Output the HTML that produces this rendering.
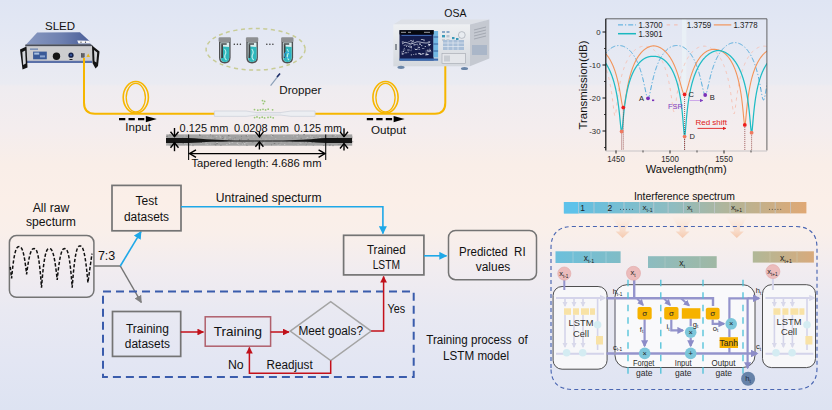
<!DOCTYPE html>
<html><head><meta charset="utf-8"><style>
html,body{margin:0;padding:0;background:#e6e9f2;}
svg{display:block;}
text{font-family:"Liberation Sans",sans-serif;}
</style></head><body>
<svg width="832" height="410" viewBox="0 0 832 410" font-family="Liberation Sans, sans-serif">
<defs>
<linearGradient id="bg" x1="0" y1="0" x2="0" y2="1">
 <stop offset="0" stop-color="#dfe5f3"/>
 <stop offset="0.1" stop-color="#e4e8f3"/>
 <stop offset="0.205" stop-color="#eaebf2"/>
 <stop offset="0.21" stop-color="#efecf0"/>
 <stop offset="0.317" stop-color="#f4edee"/>
 <stop offset="0.40" stop-color="#f9eee8"/>
 <stop offset="0.49" stop-color="#fbefe8"/>
 <stop offset="0.57" stop-color="#f9efea"/>
 <stop offset="0.66" stop-color="#f1ecf0"/>
 <stop offset="0.756" stop-color="#e9e9f2"/>
 <stop offset="0.88" stop-color="#e3e6f3"/>
 <stop offset="1" stop-color="#dde3f2"/>
</linearGradient>
<linearGradient id="spec" x1="0" y1="0" x2="1" y2="0">
 <stop offset="0" stop-color="#5cc0e6"/>
 <stop offset="0.45" stop-color="#8fbcc0"/>
 <stop offset="0.7" stop-color="#b4b496"/>
 <stop offset="1" stop-color="#e0a874"/>
</linearGradient>
<linearGradient id="xt1" x1="0" y1="0" x2="1" y2="0">
 <stop offset="0" stop-color="#6cc0dc"/><stop offset="1" stop-color="#80bcc6"/>
</linearGradient>
<linearGradient id="xt" x1="0" y1="0" x2="1" y2="0">
 <stop offset="0" stop-color="#8cbcc0"/><stop offset="1" stop-color="#a0b8a4"/>
</linearGradient>
<linearGradient id="xt2" x1="0" y1="0" x2="1" y2="0">
 <stop offset="0" stop-color="#b0b898"/><stop offset="1" stop-color="#d8aa7c"/>
</linearGradient>
<linearGradient id="funnel" x1="0" y1="0" x2="0" y2="1">
 <stop offset="0" stop-color="#fbe3d0" stop-opacity="0.1"/><stop offset="0.5" stop-color="#f8d0b4" stop-opacity="0.6"/><stop offset="1" stop-color="#f4b894"/>
</linearGradient>
<linearGradient id="sledtop" x1="0" y1="0" x2="1" y2="0">
 <stop offset="0" stop-color="#8898c0"/><stop offset="0.55" stop-color="#6e80b0"/><stop offset="1" stop-color="#4a5e98"/>
</linearGradient>
<linearGradient id="osafront" x1="0" y1="0" x2="0" y2="1">
 <stop offset="0" stop-color="#eef0f2"/><stop offset="1" stop-color="#d4d8de"/>
</linearGradient>
<marker id="ab" viewBox="0 0 10 10" refX="9" refY="5" markerWidth="5" markerHeight="5" orient="auto-start-reverse"><path d="M0,0L10,5L0,10z" fill="#1ea8e8"/></marker>
<marker id="ag" viewBox="0 0 10 10" refX="9" refY="5" markerWidth="5" markerHeight="5" orient="auto-start-reverse"><path d="M0,0L10,5L0,10z" fill="#808080"/></marker>
<marker id="ar" viewBox="0 0 10 10" refX="9" refY="5" markerWidth="4.5" markerHeight="4.5" orient="auto-start-reverse"><path d="M0,0L10,5L0,10z" fill="#c0101a"/></marker>
<marker id="ap" viewBox="0 0 10 10" refX="8" refY="5" markerWidth="3.2" markerHeight="3.2" orient="auto-start-reverse"><path d="M0,0L10,5L0,10z" fill="#8c8cc8"/></marker>
<marker id="apf" viewBox="0 0 10 10" refX="8" refY="5" markerWidth="3.2" markerHeight="3.2" orient="auto-start-reverse"><path d="M0,0L10,5L0,10z" fill="#d8d8ea"/></marker>
<marker id="ak" viewBox="0 0 10 10" refX="9" refY="5" markerWidth="4" markerHeight="4" orient="auto-start-reverse"><path d="M0,0L10,5L0,10z" fill="#000"/></marker>
<marker id="ach" viewBox="0 0 10 10" refX="2" refY="5" markerWidth="6" markerHeight="6" orient="auto-start-reverse"><path d="M0,0L10,5L0,10" fill="none" stroke="#000" stroke-width="1.6"/></marker>
<marker id="aRed" viewBox="0 0 10 10" refX="9" refY="5" markerWidth="4" markerHeight="4" orient="auto"><path d="M0,0L10,5L0,10z" fill="#e02020"/></marker>
<marker id="aPur" viewBox="0 0 10 10" refX="9" refY="5" markerWidth="4" markerHeight="4" orient="auto"><path d="M0,0L10,5L0,10z" fill="#8040c0"/></marker>
<clipPath id="plot"><rect x="606" y="19" width="161" height="132"/></clipPath>
</defs>
<rect width="832" height="410" fill="url(#bg)"/>
<g id="sled">
<polygon points="37.2,32.6 79.9,32.2 89.5,41 90.5,44.6 25.9,44.8" fill="url(#sledtop)"/>
<polygon points="77.2,40.6 89.5,40.8 90.3,43.6 78.5,43.6" fill="#f6f6f8"/>
<circle cx="81" cy="42.2" r="0.6" fill="#333"/><circle cx="85.5" cy="42.2" r="0.6" fill="#333"/>
<polygon points="25.4,44.6 91,44.3 93.5,46.5 25,46.5" fill="#4a4e58"/>
<rect x="25.6" y="46.4" width="66.4" height="16.2" fill="#cdcdcf"/>
<rect x="25.6" y="60.8" width="66.4" height="2.2" fill="#5a70a8"/>
<rect x="33.1" y="51.6" width="13.7" height="7.7" fill="#3a5a98"/>
<rect x="34.2" y="52.6" width="5" height="2" fill="#a8c0e0"/><rect x="40" y="55.4" width="5" height="2" fill="#8aa4d0"/>
<rect x="30" y="48.6" width="8" height="1" fill="#5070a8"/>
<circle cx="56.5" cy="56.3" r="3.7" fill="#151515"/>
<circle cx="71" cy="55.2" r="2.6" fill="#16224a"/>
<circle cx="71" cy="55.2" r="1.1" fill="#3a5aa0"/>
<rect x="69.5" y="59" width="3" height="1" fill="#222"/>
<rect x="81.2" y="53.6" width="3" height="3.6" fill="#606066" stroke="#333" stroke-width="0.4"/>
<polygon points="86.4,57 88.2,53.6 90,57" fill="#e8b820"/>
<path d="M20,49.5 L26.5,46.5 L27.5,67.5 L22.5,69.5 Z" fill="#141414"/>
<path d="M22.3,52 L25.2,50.5 L25.8,63.5 L23.2,65 Z" fill="#d4d6da"/>
<path d="M92,45.5 L99.5,51.5 L98,66 L95.5,68.5 L92.5,63 Z" fill="#141414"/>
<path d="M94,50 L97.2,52.6 L96.4,62.5 L94.5,61.2 Z" fill="#d4d6da"/>
</g>
<text x="60" y="29.6" font-size="11.5" fill="#111" text-anchor="middle" >SLED</text>
<path d="M84,58 L84,102.8 Q84,113.8 95,113.8 L215.5,113.8" fill="none" stroke="#f6b600" stroke-width="2"/>
<path d="M315,113.8 L435,113.8 Q445.3,113.8 445.3,102.8 L445.3,60" fill="none" stroke="#f6b600" stroke-width="2"/>
<ellipse cx="135.8" cy="97.3" rx="12.6" ry="15.8" fill="none" stroke="#f6b600" stroke-width="1.6"/>
<ellipse cx="135.8" cy="97.6" rx="9.6" ry="14.2" fill="none" stroke="#f6b600" stroke-width="1.3"/>
<ellipse cx="385.5" cy="97.3" rx="12.6" ry="15.8" fill="none" stroke="#f6b600" stroke-width="1.6"/>
<ellipse cx="385.5" cy="97.6" rx="9.6" ry="14.2" fill="none" stroke="#f6b600" stroke-width="1.3"/>
<path d="M214.4,111 L246,111 L256,112.5 L281,112.5 L291,111 L315,111 L315,116.4 L291,116.4 L281,115.1 L256,115.1 L246,116.4 L214.4,116.4 Z" fill="#eceef2" stroke="#d2d6de" stroke-width="0.9"/>
<path d="M256,113.8 H281" stroke="#dcdfe6" stroke-width="0.6"/>
<circle cx="262.5" cy="100.6" r="0.9" fill="#98c676"/>
<circle cx="264.6" cy="101.4" r="0.9" fill="#98c676"/>
<circle cx="263.4" cy="103.6" r="0.9" fill="#98c676"/>
<circle cx="254.5" cy="109.6" r="0.9" fill="#98c676"/>
<circle cx="257.8" cy="110.2" r="0.9" fill="#98c676"/>
<circle cx="260.4" cy="109.8" r="0.9" fill="#98c676"/>
<circle cx="263" cy="109.3" r="0.9" fill="#98c676"/>
<circle cx="265.6" cy="109.9" r="0.9" fill="#98c676"/>
<circle cx="268.2" cy="109.2" r="0.9" fill="#98c676"/>
<circle cx="272.6" cy="109.8" r="0.9" fill="#98c676"/>
<circle cx="254.6" cy="117.6" r="0.9" fill="#98c676"/>
<circle cx="257" cy="117" r="0.9" fill="#98c676"/>
<circle cx="259.6" cy="117.8" r="0.9" fill="#98c676"/>
<circle cx="262.2" cy="117.2" r="0.9" fill="#98c676"/>
<circle cx="264.6" cy="117.9" r="0.9" fill="#98c676"/>
<circle cx="268" cy="117.4" r="0.9" fill="#98c676"/>
<circle cx="270.6" cy="117.1" r="0.9" fill="#98c676"/>
<circle cx="273.2" cy="117.8" r="0.9" fill="#98c676"/>
<path d="M119,119.1 L144.3,119.1" stroke="#000" stroke-width="2.4" stroke-dasharray="6.3,3.2"/>
<path d="M145.8,115.9 L156.8,119.1 L145.8,122.3 Z" fill="#000"/>
<path d="M366.8,119.1 L392.1,119.1" stroke="#000" stroke-width="2.4" stroke-dasharray="6.3,3.2"/>
<path d="M393.6,115.9 L404.6,119.1 L393.6,122.3 Z" fill="#000"/>
<text x="138.1" y="131.4" font-size="11.6" fill="#111" text-anchor="middle" textLength="25.6" lengthAdjust="spacingAndGlyphs" >Input</text>
<text x="388.5" y="133.6" font-size="11.7" fill="#111" text-anchor="middle" textLength="35" lengthAdjust="spacingAndGlyphs" >Output</text>
<ellipse cx="255.6" cy="49.3" rx="49.5" ry="20.8" fill="none" stroke="#c8cc96" stroke-width="1.5" stroke-dasharray="4,3.5"/>
<path d="M219,41 L219,57.5 Q219,63.4 224.8,63.4 Q230.6,63.4 230.6,57.5 L230.6,41 Z" fill="#4e5052"/>
<path d="M220.4,42.5 L220.4,57.2 Q220.4,61.9 224.8,61.9 Q229.2,61.9 229.2,57.2 L229.2,42.5 Z" fill="#dceeee"/>
<path d="M222.4,46.5 L229.2,47 L229.2,57.2 Q229.2,61.9 224.8,61.9 Q221,61.9 221,58 Z" fill="#2fb8bc"/>
<path d="M224.5,49 Q227,52 225,55 Q224,58 226.5,60" stroke="#bff0ee" stroke-width="1.1" fill="none"/>
<rect x="221.2" y="44.5" width="1.8" height="13.5" fill="#3e4042"/>
<rect x="221.2" y="43.3" width="5.5" height="1.4" fill="#3e4042"/>
<rect x="218.6" y="37.2" width="12.4" height="4.8" rx="1.2" fill="#8e9092"/>
<path d="M246.3,41 L246.3,57.5 Q246.3,63.4 252.10000000000002,63.4 Q257.90000000000003,63.4 257.90000000000003,57.5 L257.90000000000003,41 Z" fill="#4e5052"/>
<path d="M247.70000000000002,42.5 L247.70000000000002,57.2 Q247.70000000000002,61.9 252.10000000000002,61.9 Q256.50000000000006,61.9 256.50000000000006,57.2 L256.50000000000006,42.5 Z" fill="#dceeee"/>
<path d="M249.70000000000002,46.5 L256.50000000000006,47 L256.50000000000006,57.2 Q256.50000000000006,61.9 252.10000000000002,61.9 Q248.3,61.9 248.3,58 Z" fill="#2fb8bc"/>
<path d="M251.8,49 Q254.3,52 252.3,55 Q251.3,58 253.8,60" stroke="#bff0ee" stroke-width="1.1" fill="none"/>
<rect x="248.5" y="44.5" width="1.8" height="13.5" fill="#3e4042"/>
<rect x="248.5" y="43.3" width="5.5" height="1.4" fill="#3e4042"/>
<rect x="245.9" y="37.2" width="12.4" height="4.8" rx="1.2" fill="#8e9092"/>
<path d="M281.5,41 L281.5,57.5 Q281.5,63.4 287.3,63.4 Q293.1,63.4 293.1,57.5 L293.1,41 Z" fill="#4e5052"/>
<path d="M282.9,42.5 L282.9,57.2 Q282.9,61.9 287.3,61.9 Q291.70000000000005,61.9 291.70000000000005,57.2 L291.70000000000005,42.5 Z" fill="#dceeee"/>
<path d="M284.9,46.5 L291.70000000000005,47 L291.70000000000005,57.2 Q291.70000000000005,61.9 287.3,61.9 Q283.5,61.9 283.5,58 Z" fill="#2fb8bc"/>
<path d="M287.0,49 Q289.5,52 287.5,55 Q286.5,58 289.0,60" stroke="#bff0ee" stroke-width="1.1" fill="none"/>
<rect x="283.7" y="44.5" width="1.8" height="13.5" fill="#3e4042"/>
<rect x="283.7" y="43.3" width="5.5" height="1.4" fill="#3e4042"/>
<rect x="281.1" y="37.2" width="12.4" height="4.8" rx="1.2" fill="#8e9092"/>
<circle cx="287.3" cy="55" r="3" fill="none" stroke="#28a8e0" stroke-width="1"/>
<circle cx="234.3" cy="44.2" r="0.75" fill="#333"/>
<circle cx="237.4" cy="44.2" r="0.75" fill="#333"/>
<circle cx="240.4" cy="44.2" r="0.75" fill="#333"/>
<circle cx="266.8" cy="44.2" r="0.75" fill="#333"/>
<circle cx="269.9" cy="44.2" r="0.75" fill="#333"/>
<circle cx="272.9" cy="44.2" r="0.75" fill="#333"/>
<path d="M270.6,85.6 L279.8,73.8" stroke="#8ca0b8" stroke-width="1.2"/><path d="M277,77 L280,73.5" stroke="#20306a" stroke-width="1.6"/>
<text x="279.3" y="93.8" font-size="11.7" fill="#111" text-anchor="start" textLength="42" lengthAdjust="spacingAndGlyphs" >Dropper</text>
<g id="osa">
<polygon points="393.3,24.4 401.5,19.5 489.3,19.5 470,24.4" fill="#dde0e6"/>
<polygon points="470,24.4 489.3,19.5 489.3,58.5 470,66.3" fill="#c5c9d1"/>
<path d="M474,30 L486,27 M474,33 L486,30 M474,36 L486,33 M474,39 L486,36" stroke="#9aa0aa" stroke-width="0.8"/>
<rect x="472" y="45" width="15" height="10" fill="#aab6c8"/>
<rect x="393.3" y="24.4" width="76.7" height="41.9" fill="url(#osafront)"/>
<rect x="399.5" y="30.2" width="34.2" height="30.3" fill="#141c4c"/>
<rect x="433.4" y="31" width="4.7" height="26.5" fill="#72b8e4"/><path d="M433.4,37 h4.7 M433.4,44 h4.7 M433.4,51 h4.7" stroke="#2a4a8a" stroke-width="0.8"/>
<rect x="399.5" y="58.5" width="38.6" height="2.2" fill="#3c6eb4"/>
<rect x="399.5" y="30.2" width="34.2" height="4.2" fill="#06080e"/>
<path d="M401,32.3 h5 M408,32.3 h3 M424,32.3 h6" stroke="#c0c4cc" stroke-width="0.8"/>
<path d="M401.5,35.5 h30" stroke="#4a78c8" stroke-width="0.8"/><rect x="410.7" y="40.6" width="0.8" height="0.8" fill="#e8ecf6" opacity="1"/><rect x="403.8" y="47.9" width="1.2" height="0.8" fill="#e8ecf6" opacity="0.6"/><rect x="403.6" y="45.1" width="1.2" height="0.8" fill="#e8ecf6" opacity="0.6"/><rect x="429.4" y="48.7" width="0.8" height="0.8" fill="#e8ecf6" opacity="1"/><rect x="417.2" y="47.7" width="1.2" height="0.8" fill="#e8ecf6" opacity="0.6"/><rect x="418.4" y="48.9" width="1.8" height="0.8" fill="#e8ecf6" opacity="0.6"/><rect x="407.2" y="49.6" width="2.5" height="0.8" fill="#e8ecf6" opacity="0.8"/><rect x="415.0" y="53.7" width="1.8" height="0.8" fill="#e8ecf6" opacity="0.8"/><rect x="408.5" y="41.1" width="1.2" height="0.8" fill="#e8ecf6" opacity="0.6"/><rect x="418.2" y="46.9" width="1.8" height="0.8" fill="#e8ecf6" opacity="1"/><rect x="414.5" y="48.4" width="0.8" height="0.8" fill="#e8ecf6" opacity="0.6"/><rect x="429.0" y="45.2" width="0.8" height="0.8" fill="#e8ecf6" opacity="1"/><rect x="418.2" y="52.9" width="1.8" height="0.8" fill="#e8ecf6" opacity="0.8"/><rect x="421.9" y="48.1" width="2.5" height="0.8" fill="#e8ecf6" opacity="0.6"/><rect x="426.2" y="54.1" width="2.5" height="0.8" fill="#e8ecf6" opacity="1"/><rect x="420.9" y="39.0" width="2.5" height="0.8" fill="#e8ecf6" opacity="0.8"/><rect x="422.5" y="53.1" width="1.8" height="0.8" fill="#e8ecf6" opacity="0.6"/><rect x="429.2" y="44.0" width="0.8" height="0.8" fill="#e8ecf6" opacity="0.8"/><rect x="402.8" y="51.1" width="1.2" height="0.8" fill="#e8ecf6" opacity="1"/><rect x="408.4" y="44.6" width="2.5" height="0.8" fill="#e8ecf6" opacity="0.6"/><rect x="406.0" y="44.8" width="1.8" height="0.8" fill="#e8ecf6" opacity="0.6"/><rect x="425.6" y="52.7" width="1.8" height="0.8" fill="#e8ecf6" opacity="1"/><rect x="413.5" y="44.1" width="2.5" height="0.8" fill="#e8ecf6" opacity="0.6"/><rect x="408.0" y="46.2" width="1.2" height="0.8" fill="#e8ecf6" opacity="0.8"/><rect x="419.3" y="43.4" width="1.2" height="0.8" fill="#e8ecf6" opacity="1"/><rect x="426.8" y="54.2" width="0.8" height="0.8" fill="#e8ecf6" opacity="0.8"/><rect x="428.0" y="51.3" width="2.5" height="0.8" fill="#e8ecf6" opacity="0.8"/><rect x="413.0" y="39.8" width="0.8" height="0.8" fill="#e8ecf6" opacity="0.6"/><rect x="403.0" y="41.5" width="1.2" height="0.8" fill="#e8ecf6" opacity="0.6"/><rect x="401.8" y="52.9" width="2.5" height="0.8" fill="#e8ecf6" opacity="0.6"/><rect x="420.0" y="54.2" width="1.8" height="0.8" fill="#e8ecf6" opacity="0.8"/><rect x="404.7" y="52.4" width="2.5" height="0.8" fill="#e8ecf6" opacity="0.8"/><rect x="411.3" y="42.5" width="1.2" height="0.8" fill="#e8ecf6" opacity="1"/><rect x="401.7" y="54.2" width="1.8" height="0.8" fill="#e8ecf6" opacity="0.6"/><rect x="421.7" y="53.5" width="1.8" height="0.8" fill="#e8ecf6" opacity="1"/><rect x="426.9" y="49.8" width="1.8" height="0.8" fill="#e8ecf6" opacity="1"/><rect x="412.0" y="40.8" width="1.8" height="0.8" fill="#e8ecf6" opacity="1"/><rect x="407.7" y="51.8" width="1.2" height="0.8" fill="#e8ecf6" opacity="0.6"/><rect x="425.5" y="50.6" width="1.2" height="0.8" fill="#e8ecf6" opacity="0.6"/><rect x="416.5" y="44.0" width="0.8" height="0.8" fill="#e8ecf6" opacity="0.6"/><rect x="424.7" y="46.0" width="1.2" height="0.8" fill="#e8ecf6" opacity="1"/><rect x="419.2" y="43.9" width="1.8" height="0.8" fill="#e8ecf6" opacity="0.8"/><rect x="411.1" y="46.2" width="0.8" height="0.8" fill="#e8ecf6" opacity="0.8"/><rect x="428.3" y="43.8" width="0.8" height="0.8" fill="#e8ecf6" opacity="1"/><rect x="404.6" y="44.6" width="1.2" height="0.8" fill="#e8ecf6" opacity="0.8"/><rect x="427.7" y="45.4" width="1.8" height="0.8" fill="#e8ecf6" opacity="0.6"/><rect x="425.0" y="54.5" width="2.5" height="0.8" fill="#e8ecf6" opacity="0.8"/><rect x="413.0" y="54.1" width="1.2" height="0.8" fill="#e8ecf6" opacity="0.6"/><rect x="415.0" y="49.1" width="2.5" height="0.8" fill="#e8ecf6" opacity="1"/><rect x="401.6" y="51.6" width="0.8" height="0.8" fill="#e8ecf6" opacity="1"/><rect x="423.5" y="40.4" width="1.2" height="0.8" fill="#e8ecf6" opacity="0.6"/><rect x="401.8" y="41.6" width="1.2" height="0.8" fill="#e8ecf6" opacity="1"/><rect x="410.8" y="47.3" width="1.2" height="0.8" fill="#e8ecf6" opacity="0.6"/><rect x="428.3" y="44.0" width="2.5" height="0.8" fill="#e8ecf6" opacity="1"/><rect x="418.5" y="53.4" width="2.5" height="0.8" fill="#e8ecf6" opacity="1"/><rect x="427.2" y="51.2" width="0.8" height="0.8" fill="#e8ecf6" opacity="0.6"/><rect x="406.2" y="46.0" width="0.8" height="0.8" fill="#e8ecf6" opacity="1"/><rect x="402.9" y="49.6" width="2.5" height="0.8" fill="#e8ecf6" opacity="0.6"/><rect x="401.8" y="53.2" width="0.8" height="0.8" fill="#e8ecf6" opacity="0.8"/><rect x="410.8" y="54.5" width="1.2" height="0.8" fill="#e8ecf6" opacity="1"/><rect x="409.3" y="46.6" width="2.5" height="0.8" fill="#e8ecf6" opacity="1"/><rect x="429.2" y="49.9" width="1.8" height="0.8" fill="#e8ecf6" opacity="1"/><rect x="427.8" y="41.4" width="2.5" height="0.8" fill="#e8ecf6" opacity="0.6"/><rect x="413.5" y="44.7" width="1.8" height="0.8" fill="#e8ecf6" opacity="0.6"/><rect x="421.1" y="45.3" width="1.2" height="0.8" fill="#e8ecf6" opacity="1"/><rect x="410.1" y="40.1" width="1.8" height="0.8" fill="#e8ecf6" opacity="0.6"/><rect x="423.4" y="39.6" width="1.2" height="0.8" fill="#e8ecf6" opacity="1"/><rect x="416.5" y="43.8" width="1.2" height="0.8" fill="#e8ecf6" opacity="0.8"/><rect x="410.6" y="50.3" width="0.8" height="0.8" fill="#e8ecf6" opacity="0.8"/><rect x="417.6" y="45.5" width="0.8" height="0.8" fill="#e8ecf6" opacity="0.8"/><rect x="410.9" y="48.6" width="0.8" height="0.8" fill="#e8ecf6" opacity="0.6"/><rect x="430.6" y="51.4" width="0.8" height="0.8" fill="#e8ecf6" opacity="0.6"/><path d="M402,44 q3,-3 6,-1 t6,0 t6,-1 t6,1 t4,-1" stroke="#e8ecf6" stroke-width="0.7" fill="none"/>
<rect x="442" y="31" width="3" height="2" fill="#8aa8c8"/><rect x="446.5" y="31" width="3" height="2" fill="#8aa8c8"/><rect x="442" y="35" width="3" height="2.4" fill="#3a9ab8"/><rect x="446.5" y="35" width="3" height="2.4" fill="#b8c4d0"/><rect x="442" y="39" width="3" height="2" fill="#c8ccd2"/><rect x="446.5" y="39" width="3" height="2" fill="#c8ccd2"/><rect x="452" y="37" width="2.5" height="2.2" fill="#3a9ab8"/><rect x="456" y="38" width="2.5" height="2" fill="#3a9ab8"/>
<rect x="443" y="40" width="21" height="10" fill="#a9bfd8"/>
<path d="M443,43 h21 M443,46.5 h21 M448,40 v10 M453,40 v10 M458,40 v10" stroke="#e4eaf2" stroke-width="0.7"/>
<circle cx="461.8" cy="35" r="3.4" fill="#e8ecf0" stroke="#98a0aa" stroke-width="0.6"/>
<rect x="442" y="53.5" width="23.5" height="10" fill="#e4e6ea" stroke="#a0a6ae" stroke-width="0.6"/>
<rect x="444" y="55.5" width="6" height="6" fill="#c8ccd2"/>
<rect x="395" y="44" width="2" height="6" fill="#8a9098"/>
<ellipse cx="401" cy="67.3" rx="3.6" ry="1.6" fill="#6a86a8"/>
<ellipse cx="464.5" cy="68.5" rx="3.6" ry="1.6" fill="#6a86a8"/>
</g>
<text x="455.4" y="16.7" font-size="10.5" fill="#111" text-anchor="middle" >OSA</text>
<rect x="166.2" y="134.4" width="186" height="11.3" fill="#a2a2a2"/>
<rect x="210.3" y="140.3" width="1.6" height="0.8" fill="#acacac"/>
<rect x="254.2" y="140.7" width="0.8" height="0.8" fill="#cacaca"/>
<rect x="335.0" y="139.4" width="0.8" height="0.8" fill="#cacaca"/>
<rect x="201.7" y="142.2" width="1.6" height="0.8" fill="#cacaca"/>
<rect x="254.6" y="141.3" width="0.8" height="0.8" fill="#b8b8b8"/>
<rect x="284.1" y="144.0" width="1.2" height="0.8" fill="#cacaca"/>
<rect x="303.9" y="141.7" width="0.8" height="0.8" fill="#747474"/>
<rect x="307.0" y="140.8" width="0.8" height="0.8" fill="#acacac"/>
<rect x="319.2" y="137.1" width="1.6" height="0.8" fill="#cacaca"/>
<rect x="337.1" y="138.5" width="1.2" height="0.8" fill="#8a8a8a"/>
<rect x="301.4" y="140.6" width="1.2" height="0.8" fill="#b8b8b8"/>
<rect x="184.1" y="135.6" width="1.2" height="0.8" fill="#b8b8b8"/>
<rect x="345.6" y="139.0" width="1.2" height="0.8" fill="#c0c0c0"/>
<rect x="244.3" y="143.6" width="1.2" height="0.8" fill="#cacaca"/>
<rect x="265.3" y="138.7" width="1.2" height="0.8" fill="#b8b8b8"/>
<rect x="292.8" y="144.7" width="1.6" height="0.8" fill="#acacac"/>
<rect x="290.9" y="135.9" width="1.6" height="0.8" fill="#acacac"/>
<rect x="334.3" y="140.5" width="1.6" height="0.8" fill="#c0c0c0"/>
<rect x="205.3" y="143.6" width="1.2" height="0.8" fill="#cacaca"/>
<rect x="219.0" y="134.7" width="1.2" height="0.8" fill="#c0c0c0"/>
<rect x="182.5" y="143.2" width="0.8" height="0.8" fill="#8a8a8a"/>
<rect x="169.7" y="138.9" width="0.8" height="0.8" fill="#8a8a8a"/>
<rect x="174.2" y="141.1" width="1.2" height="0.8" fill="#747474"/>
<rect x="299.6" y="137.8" width="1.6" height="0.8" fill="#acacac"/>
<rect x="209.9" y="134.4" width="0.8" height="0.8" fill="#747474"/>
<rect x="186.1" y="140.2" width="1.2" height="0.8" fill="#b8b8b8"/>
<rect x="220.2" y="137.0" width="0.8" height="0.8" fill="#c0c0c0"/>
<rect x="348.3" y="137.9" width="0.8" height="0.8" fill="#acacac"/>
<rect x="332.8" y="138.3" width="1.6" height="0.8" fill="#8a8a8a"/>
<rect x="237.8" y="144.0" width="1.6" height="0.8" fill="#c0c0c0"/>
<rect x="185.1" y="145.2" width="1.2" height="0.8" fill="#cacaca"/>
<rect x="246.2" y="142.3" width="1.2" height="0.8" fill="#b8b8b8"/>
<rect x="247.4" y="137.0" width="1.6" height="0.8" fill="#acacac"/>
<rect x="229.0" y="143.1" width="1.2" height="0.8" fill="#cacaca"/>
<rect x="169.7" y="141.1" width="0.8" height="0.8" fill="#c0c0c0"/>
<rect x="177.2" y="141.2" width="1.2" height="0.8" fill="#8a8a8a"/>
<rect x="292.3" y="138.1" width="1.2" height="0.8" fill="#c0c0c0"/>
<rect x="303.3" y="134.3" width="1.6" height="0.8" fill="#747474"/>
<rect x="170.0" y="138.2" width="1.2" height="0.8" fill="#c0c0c0"/>
<rect x="221.5" y="140.9" width="1.2" height="0.8" fill="#b8b8b8"/>
<rect x="200.5" y="142.7" width="1.2" height="0.8" fill="#cacaca"/>
<rect x="221.9" y="138.3" width="1.6" height="0.8" fill="#747474"/>
<rect x="293.2" y="135.5" width="0.8" height="0.8" fill="#cacaca"/>
<rect x="287.6" y="137.1" width="0.8" height="0.8" fill="#acacac"/>
<rect x="292.1" y="141.5" width="0.8" height="0.8" fill="#747474"/>
<rect x="277.7" y="144.9" width="0.8" height="0.8" fill="#c0c0c0"/>
<rect x="247.5" y="143.8" width="0.8" height="0.8" fill="#b8b8b8"/>
<rect x="228.6" y="141.5" width="1.2" height="0.8" fill="#cacaca"/>
<rect x="216.3" y="143.1" width="1.6" height="0.8" fill="#747474"/>
<rect x="344.1" y="137.6" width="0.8" height="0.8" fill="#cacaca"/>
<rect x="326.7" y="137.9" width="0.8" height="0.8" fill="#c0c0c0"/>
<rect x="316.0" y="138.0" width="1.2" height="0.8" fill="#b8b8b8"/>
<rect x="220.3" y="143.1" width="1.2" height="0.8" fill="#acacac"/>
<rect x="230.4" y="138.8" width="1.6" height="0.8" fill="#8a8a8a"/>
<rect x="242.2" y="144.6" width="0.8" height="0.8" fill="#b8b8b8"/>
<rect x="166.9" y="144.8" width="1.6" height="0.8" fill="#cacaca"/>
<rect x="246.8" y="144.9" width="0.8" height="0.8" fill="#c0c0c0"/>
<rect x="172.0" y="139.3" width="1.6" height="0.8" fill="#c0c0c0"/>
<rect x="262.5" y="137.3" width="0.8" height="0.8" fill="#acacac"/>
<rect x="326.2" y="143.9" width="0.8" height="0.8" fill="#acacac"/>
<rect x="316.7" y="134.5" width="1.6" height="0.8" fill="#c0c0c0"/>
<rect x="337.8" y="144.3" width="1.6" height="0.8" fill="#8a8a8a"/>
<rect x="175.2" y="139.5" width="0.8" height="0.8" fill="#747474"/>
<rect x="259.6" y="136.7" width="1.6" height="0.8" fill="#747474"/>
<rect x="265.9" y="134.6" width="0.8" height="0.8" fill="#cacaca"/>
<rect x="229.5" y="136.9" width="1.2" height="0.8" fill="#cacaca"/>
<rect x="316.9" y="134.7" width="0.8" height="0.8" fill="#b8b8b8"/>
<rect x="188.7" y="144.2" width="0.8" height="0.8" fill="#747474"/>
<rect x="210.5" y="137.1" width="0.8" height="0.8" fill="#b8b8b8"/>
<rect x="256.7" y="140.6" width="0.8" height="0.8" fill="#8a8a8a"/>
<rect x="306.7" y="136.9" width="1.6" height="0.8" fill="#cacaca"/>
<rect x="262.7" y="134.6" width="0.8" height="0.8" fill="#acacac"/>
<rect x="325.4" y="142.9" width="0.8" height="0.8" fill="#747474"/>
<rect x="175.3" y="139.6" width="1.6" height="0.8" fill="#747474"/>
<rect x="182.0" y="139.8" width="0.8" height="0.8" fill="#acacac"/>
<rect x="224.5" y="138.0" width="1.2" height="0.8" fill="#c0c0c0"/>
<rect x="275.1" y="138.1" width="1.2" height="0.8" fill="#b8b8b8"/>
<rect x="245.7" y="135.5" width="1.6" height="0.8" fill="#747474"/>
<rect x="300.5" y="143.1" width="0.8" height="0.8" fill="#cacaca"/>
<rect x="174.0" y="139.3" width="1.6" height="0.8" fill="#c0c0c0"/>
<rect x="236.7" y="143.2" width="1.2" height="0.8" fill="#cacaca"/>
<rect x="175.9" y="141.2" width="1.2" height="0.8" fill="#c0c0c0"/>
<rect x="244.2" y="142.0" width="0.8" height="0.8" fill="#8a8a8a"/>
<rect x="211.6" y="140.2" width="1.6" height="0.8" fill="#c0c0c0"/>
<rect x="179.3" y="138.9" width="0.8" height="0.8" fill="#8a8a8a"/>
<rect x="329.6" y="144.8" width="1.6" height="0.8" fill="#acacac"/>
<rect x="313.1" y="137.0" width="1.6" height="0.8" fill="#8a8a8a"/>
<rect x="188.9" y="143.4" width="1.6" height="0.8" fill="#c0c0c0"/>
<rect x="313.4" y="141.7" width="1.2" height="0.8" fill="#c0c0c0"/>
<rect x="270.9" y="135.2" width="1.6" height="0.8" fill="#cacaca"/>
<rect x="166.9" y="135.7" width="0.8" height="0.8" fill="#8a8a8a"/>
<rect x="264.1" y="140.5" width="1.2" height="0.8" fill="#c0c0c0"/>
<rect x="199.3" y="134.3" width="0.8" height="0.8" fill="#747474"/>
<rect x="323.0" y="141.7" width="1.2" height="0.8" fill="#c0c0c0"/>
<rect x="273.7" y="143.2" width="1.6" height="0.8" fill="#747474"/>
<rect x="261.1" y="142.2" width="1.6" height="0.8" fill="#747474"/>
<rect x="305.3" y="144.7" width="1.6" height="0.8" fill="#747474"/>
<rect x="226.3" y="140.5" width="0.8" height="0.8" fill="#747474"/>
<rect x="351.7" y="141.4" width="1.6" height="0.8" fill="#8a8a8a"/>
<rect x="296.2" y="144.8" width="1.2" height="0.8" fill="#acacac"/>
<rect x="277.5" y="144.8" width="1.2" height="0.8" fill="#cacaca"/>
<rect x="345.7" y="138.3" width="1.2" height="0.8" fill="#b8b8b8"/>
<rect x="322.9" y="145.1" width="1.6" height="0.8" fill="#8a8a8a"/>
<rect x="271.7" y="140.7" width="1.6" height="0.8" fill="#cacaca"/>
<rect x="256.0" y="141.4" width="0.8" height="0.8" fill="#b8b8b8"/>
<rect x="183.8" y="142.6" width="1.6" height="0.8" fill="#c0c0c0"/>
<rect x="342.8" y="140.7" width="0.8" height="0.8" fill="#b8b8b8"/>
<rect x="215.7" y="136.3" width="1.6" height="0.8" fill="#cacaca"/>
<rect x="224.6" y="136.7" width="1.6" height="0.8" fill="#c0c0c0"/>
<rect x="343.3" y="137.4" width="1.2" height="0.8" fill="#c0c0c0"/>
<rect x="276.7" y="140.7" width="0.8" height="0.8" fill="#acacac"/>
<rect x="223.1" y="137.1" width="0.8" height="0.8" fill="#8a8a8a"/>
<rect x="198.0" y="138.1" width="1.2" height="0.8" fill="#acacac"/>
<rect x="310.0" y="135.7" width="1.2" height="0.8" fill="#c0c0c0"/>
<rect x="296.5" y="136.4" width="1.6" height="0.8" fill="#cacaca"/>
<rect x="269.6" y="139.5" width="0.8" height="0.8" fill="#c0c0c0"/>
<rect x="325.3" y="138.6" width="0.8" height="0.8" fill="#c0c0c0"/>
<rect x="252.9" y="136.6" width="1.6" height="0.8" fill="#b8b8b8"/>
<rect x="299.5" y="141.8" width="1.2" height="0.8" fill="#b8b8b8"/>
<rect x="211.0" y="136.2" width="0.8" height="0.8" fill="#acacac"/>
<rect x="200.8" y="142.1" width="1.2" height="0.8" fill="#747474"/>
<rect x="197.6" y="134.5" width="1.2" height="0.8" fill="#b8b8b8"/>
<rect x="182.9" y="143.2" width="0.8" height="0.8" fill="#747474"/>
<rect x="215.1" y="144.5" width="1.2" height="0.8" fill="#747474"/>
<rect x="250.1" y="142.4" width="0.8" height="0.8" fill="#acacac"/>
<rect x="171.5" y="137.8" width="1.2" height="0.8" fill="#8a8a8a"/>
<rect x="180.5" y="141.4" width="1.2" height="0.8" fill="#c0c0c0"/>
<rect x="238.7" y="140.3" width="1.2" height="0.8" fill="#747474"/>
<rect x="180.2" y="139.0" width="1.6" height="0.8" fill="#8a8a8a"/>
<rect x="335.0" y="135.1" width="1.2" height="0.8" fill="#c0c0c0"/>
<rect x="292.2" y="138.2" width="1.2" height="0.8" fill="#8a8a8a"/>
<rect x="289.3" y="141.7" width="0.8" height="0.8" fill="#acacac"/>
<rect x="306.3" y="145.1" width="1.6" height="0.8" fill="#c0c0c0"/>
<rect x="265.7" y="135.3" width="1.6" height="0.8" fill="#8a8a8a"/>
<rect x="231.5" y="142.3" width="1.6" height="0.8" fill="#c0c0c0"/>
<rect x="271.3" y="136.1" width="1.6" height="0.8" fill="#c0c0c0"/>
<rect x="283.3" y="136.1" width="1.2" height="0.8" fill="#c0c0c0"/>
<rect x="188.9" y="144.7" width="1.2" height="0.8" fill="#b8b8b8"/>
<rect x="286.0" y="141.5" width="1.6" height="0.8" fill="#8a8a8a"/>
<rect x="221.9" y="136.1" width="1.2" height="0.8" fill="#8a8a8a"/>
<rect x="311.5" y="142.1" width="1.6" height="0.8" fill="#747474"/>
<rect x="199.7" y="140.4" width="1.6" height="0.8" fill="#cacaca"/>
<rect x="238.9" y="135.1" width="1.2" height="0.8" fill="#acacac"/>
<rect x="175.9" y="135.6" width="1.6" height="0.8" fill="#8a8a8a"/>
<rect x="216.5" y="142.0" width="1.2" height="0.8" fill="#cacaca"/>
<rect x="328.8" y="144.9" width="1.6" height="0.8" fill="#8a8a8a"/>
<rect x="316.5" y="134.8" width="0.8" height="0.8" fill="#8a8a8a"/>
<rect x="194.2" y="140.8" width="0.8" height="0.8" fill="#c0c0c0"/>
<rect x="271.0" y="144.5" width="0.8" height="0.8" fill="#747474"/>
<rect x="295.9" y="140.5" width="1.6" height="0.8" fill="#c0c0c0"/>
<rect x="238.8" y="145.3" width="1.6" height="0.8" fill="#b8b8b8"/>
<rect x="279.1" y="143.9" width="1.6" height="0.8" fill="#b8b8b8"/>
<rect x="264.1" y="140.5" width="1.2" height="0.8" fill="#b8b8b8"/>
<rect x="234.7" y="137.4" width="1.2" height="0.8" fill="#8a8a8a"/>
<rect x="342.6" y="138.4" width="1.6" height="0.8" fill="#cacaca"/>
<rect x="223.6" y="139.7" width="1.6" height="0.8" fill="#cacaca"/>
<rect x="297.5" y="144.3" width="1.2" height="0.8" fill="#c0c0c0"/>
<rect x="171.6" y="136.2" width="0.8" height="0.8" fill="#c0c0c0"/>
<rect x="186.0" y="142.7" width="1.2" height="0.8" fill="#b8b8b8"/>
<rect x="198.2" y="141.2" width="0.8" height="0.8" fill="#b8b8b8"/>
<rect x="311.5" y="136.4" width="1.6" height="0.8" fill="#cacaca"/>
<rect x="342.1" y="135.3" width="1.6" height="0.8" fill="#acacac"/>
<rect x="331.9" y="135.6" width="1.6" height="0.8" fill="#747474"/>
<rect x="337.8" y="134.3" width="0.8" height="0.8" fill="#cacaca"/>
<rect x="260.1" y="139.7" width="1.2" height="0.8" fill="#747474"/>
<rect x="226.1" y="144.0" width="1.6" height="0.8" fill="#c0c0c0"/>
<rect x="191.0" y="143.9" width="0.8" height="0.8" fill="#cacaca"/>
<rect x="299.2" y="142.5" width="0.8" height="0.8" fill="#acacac"/>
<rect x="339.3" y="143.9" width="1.6" height="0.8" fill="#8a8a8a"/>
<rect x="306.8" y="139.6" width="0.8" height="0.8" fill="#747474"/>
<rect x="242.0" y="143.7" width="0.8" height="0.8" fill="#c0c0c0"/>
<rect x="238.8" y="139.4" width="1.6" height="0.8" fill="#747474"/>
<rect x="324.4" y="136.4" width="1.2" height="0.8" fill="#8a8a8a"/>
<rect x="170.3" y="139.3" width="1.2" height="0.8" fill="#c0c0c0"/>
<rect x="247.5" y="139.2" width="1.6" height="0.8" fill="#747474"/>
<rect x="213.7" y="143.8" width="1.6" height="0.8" fill="#8a8a8a"/>
<rect x="233.2" y="138.6" width="0.8" height="0.8" fill="#747474"/>
<rect x="214.1" y="138.3" width="1.6" height="0.8" fill="#8a8a8a"/>
<rect x="202.3" y="136.4" width="1.6" height="0.8" fill="#b8b8b8"/>
<rect x="241.1" y="135.9" width="0.8" height="0.8" fill="#747474"/>
<rect x="186.5" y="135.9" width="0.8" height="0.8" fill="#8a8a8a"/>
<rect x="177.1" y="134.3" width="1.2" height="0.8" fill="#8a8a8a"/>
<rect x="241.8" y="142.1" width="0.8" height="0.8" fill="#747474"/>
<rect x="241.0" y="138.6" width="0.8" height="0.8" fill="#747474"/>
<rect x="210.9" y="138.5" width="0.8" height="0.8" fill="#b8b8b8"/>
<rect x="227.9" y="135.3" width="1.6" height="0.8" fill="#747474"/>
<rect x="175.7" y="142.4" width="1.2" height="0.8" fill="#acacac"/>
<rect x="312.8" y="145.1" width="0.8" height="0.8" fill="#8a8a8a"/>
<rect x="270.4" y="134.3" width="1.6" height="0.8" fill="#acacac"/>
<rect x="350.7" y="137.6" width="1.6" height="0.8" fill="#747474"/>
<rect x="247.0" y="135.0" width="0.8" height="0.8" fill="#cacaca"/>
<rect x="185.5" y="141.8" width="0.8" height="0.8" fill="#747474"/>
<rect x="259.6" y="139.5" width="1.6" height="0.8" fill="#b8b8b8"/>
<rect x="260.8" y="137.8" width="1.2" height="0.8" fill="#8a8a8a"/>
<rect x="315.5" y="144.5" width="0.8" height="0.8" fill="#c0c0c0"/>
<rect x="237.1" y="142.6" width="1.2" height="0.8" fill="#c0c0c0"/>
<rect x="182.3" y="137.4" width="0.8" height="0.8" fill="#8a8a8a"/>
<rect x="260.4" y="140.3" width="1.6" height="0.8" fill="#cacaca"/>
<rect x="310.8" y="138.6" width="1.6" height="0.8" fill="#c0c0c0"/>
<rect x="237.8" y="144.8" width="0.8" height="0.8" fill="#acacac"/>
<rect x="233.5" y="138.8" width="1.2" height="0.8" fill="#b8b8b8"/>
<rect x="311.0" y="139.5" width="0.8" height="0.8" fill="#acacac"/>
<rect x="260.3" y="142.7" width="1.6" height="0.8" fill="#c0c0c0"/>
<rect x="237.9" y="139.6" width="0.8" height="0.8" fill="#b8b8b8"/>
<rect x="298.2" y="134.3" width="0.8" height="0.8" fill="#8a8a8a"/>
<rect x="307.1" y="141.8" width="1.2" height="0.8" fill="#747474"/>
<rect x="210.1" y="143.7" width="0.8" height="0.8" fill="#c0c0c0"/>
<rect x="329.4" y="144.0" width="1.2" height="0.8" fill="#8a8a8a"/>
<rect x="332.8" y="142.4" width="1.2" height="0.8" fill="#acacac"/>
<rect x="166.3" y="136.2" width="1.2" height="0.8" fill="#747474"/>
<rect x="271.8" y="135.3" width="1.6" height="0.8" fill="#747474"/>
<rect x="205.1" y="141.9" width="1.6" height="0.8" fill="#b8b8b8"/>
<rect x="192.6" y="145.3" width="0.8" height="0.8" fill="#747474"/>
<rect x="219.5" y="136.4" width="1.6" height="0.8" fill="#cacaca"/>
<rect x="244.0" y="143.0" width="1.2" height="0.8" fill="#cacaca"/>
<rect x="312.7" y="140.2" width="1.2" height="0.8" fill="#b8b8b8"/>
<rect x="199.0" y="134.9" width="1.6" height="0.8" fill="#747474"/>
<rect x="170.5" y="145.1" width="1.2" height="0.8" fill="#b8b8b8"/>
<rect x="182.0" y="139.4" width="1.6" height="0.8" fill="#b8b8b8"/>
<rect x="280.5" y="141.4" width="1.6" height="0.8" fill="#c0c0c0"/>
<rect x="230.4" y="140.9" width="0.8" height="0.8" fill="#8a8a8a"/>
<rect x="220.3" y="144.9" width="1.2" height="0.8" fill="#8a8a8a"/>
<rect x="204.3" y="140.2" width="1.2" height="0.8" fill="#8a8a8a"/>
<rect x="301.4" y="134.9" width="0.8" height="0.8" fill="#acacac"/>
<rect x="256.1" y="134.8" width="1.6" height="0.8" fill="#cacaca"/>
<rect x="302.8" y="138.9" width="0.8" height="0.8" fill="#c0c0c0"/>
<rect x="278.7" y="136.5" width="0.8" height="0.8" fill="#acacac"/>
<rect x="228.3" y="139.0" width="1.2" height="0.8" fill="#747474"/>
<rect x="206.5" y="135.9" width="1.6" height="0.8" fill="#b8b8b8"/>
<rect x="206.7" y="144.1" width="1.6" height="0.8" fill="#c0c0c0"/>
<rect x="252.2" y="142.2" width="1.2" height="0.8" fill="#8a8a8a"/>
<rect x="342.3" y="144.4" width="1.2" height="0.8" fill="#8a8a8a"/>
<rect x="332.2" y="145.3" width="1.6" height="0.8" fill="#8a8a8a"/>
<rect x="337.2" y="137.4" width="0.8" height="0.8" fill="#747474"/>
<rect x="332.0" y="134.3" width="1.2" height="0.8" fill="#b8b8b8"/>
<rect x="259.7" y="134.7" width="0.8" height="0.8" fill="#8a8a8a"/>
<rect x="202.2" y="136.4" width="1.2" height="0.8" fill="#8a8a8a"/>
<rect x="173.0" y="139.4" width="1.6" height="0.8" fill="#b8b8b8"/>
<rect x="311.5" y="135.6" width="1.2" height="0.8" fill="#8a8a8a"/>
<rect x="335.0" y="139.1" width="0.8" height="0.8" fill="#b8b8b8"/>
<rect x="256.6" y="143.3" width="1.2" height="0.8" fill="#acacac"/>
<rect x="348.2" y="144.1" width="0.8" height="0.8" fill="#acacac"/>
<rect x="246.2" y="144.8" width="1.6" height="0.8" fill="#8a8a8a"/>
<rect x="351.7" y="136.6" width="1.2" height="0.8" fill="#acacac"/>
<rect x="171.5" y="138.3" width="1.2" height="0.8" fill="#acacac"/>
<rect x="305.0" y="144.7" width="0.8" height="0.8" fill="#cacaca"/>
<rect x="168.7" y="141.2" width="1.6" height="0.8" fill="#b8b8b8"/>
<rect x="169.9" y="144.9" width="0.8" height="0.8" fill="#747474"/>
<rect x="349.0" y="143.1" width="1.2" height="0.8" fill="#acacac"/>
<rect x="348.1" y="134.4" width="0.8" height="0.8" fill="#b8b8b8"/>
<rect x="168.5" y="139.0" width="0.8" height="0.8" fill="#acacac"/>
<rect x="278.2" y="143.3" width="1.2" height="0.8" fill="#8a8a8a"/>
<rect x="214.7" y="141.7" width="1.2" height="0.8" fill="#8a8a8a"/>
<rect x="300.5" y="137.9" width="1.2" height="0.8" fill="#747474"/>
<rect x="172.9" y="145.5" width="1.6" height="0.8" fill="#b8b8b8"/>
<rect x="212.0" y="135.6" width="1.6" height="0.8" fill="#8a8a8a"/>
<rect x="305.6" y="137.9" width="1.2" height="0.8" fill="#b8b8b8"/>
<rect x="169.1" y="134.5" width="1.6" height="0.8" fill="#8a8a8a"/>
<rect x="177.2" y="143.4" width="1.2" height="0.8" fill="#8a8a8a"/>
<rect x="262.9" y="142.7" width="1.6" height="0.8" fill="#cacaca"/>
<path d="M166,138 L188,138 C196,138.3 205,139 212,139.6 C218,139.9 226,140.2 235,140.4 L259,140.6 L283,140.4 C292,140.2 300,139.9 306,139.6 C313,139 318,138.3 326,138 L352,138 L352,143 L326,143 C318,142.8 313,142.2 306,141.8 C300,141.6 292,141.5 283,141.4 L259,141.4 L235,141.4 C226,141.5 218,141.6 212,141.8 C205,142.2 196,142.8 188,143 L166,143 Z" fill="#161616"/>
<path d="M188.6,134.4 V160 M325.7,134.4 V160" stroke="#111" stroke-width="1.1"/>
<path d="M189.5,153.6 H325" stroke="#000" stroke-width="1.4"/>
<path d="M196,149.8 L189.6,153.6 L196,157.4 M318.6,149.8 L325,153.6 L318.6,157.4" stroke="#000" stroke-width="1.4" fill="none"/>
<path d="M174.5,128 L174.5,136.7" stroke="#000" stroke-width="1.4"/>
<path d="M170.5,131.7 L174.5,136.7 L178.5,131.7" stroke="#000" stroke-width="1.4" fill="none"/>
<path d="M174.5,151.2 L174.5,142.7" stroke="#000" stroke-width="1.4"/>
<path d="M170.5,147.7 L174.5,142.7 L178.5,147.7" stroke="#000" stroke-width="1.4" fill="none"/>
<path d="M259.4,131.6 L259.4,136.9" stroke="#000" stroke-width="1.4"/>
<path d="M255.39999999999998,131.9 L259.4,136.9 L263.4,131.9" stroke="#000" stroke-width="1.4" fill="none"/>
<path d="M259.4,149.5 L259.4,141.8" stroke="#000" stroke-width="1.4"/>
<path d="M255.39999999999998,146.8 L259.4,141.8 L263.4,146.8" stroke="#000" stroke-width="1.4" fill="none"/>
<path d="M344,128.2 L344,136.7" stroke="#000" stroke-width="1.4"/>
<path d="M340,131.7 L344,136.7 L348,131.7" stroke="#000" stroke-width="1.4" fill="none"/>
<path d="M344,150.4 L344,143.5" stroke="#000" stroke-width="1.4"/>
<path d="M340,148.5 L344,143.5 L348,148.5" stroke="#000" stroke-width="1.4" fill="none"/>
<text x="179.6" y="132" font-size="10.5" fill="#111" text-anchor="start" textLength="48.7" lengthAdjust="spacingAndGlyphs" >0.125 mm</text>
<text x="234" y="132" font-size="10.5" fill="#111" text-anchor="start" textLength="55" lengthAdjust="spacingAndGlyphs" >0.0208 mm</text>
<text x="294" y="132" font-size="10.5" fill="#111" text-anchor="start" textLength="48" lengthAdjust="spacingAndGlyphs" >0.125 mm</text>
<text x="256.5" y="167.4" font-size="10.5" fill="#111" text-anchor="middle" textLength="130" lengthAdjust="spacingAndGlyphs" >Tapered length: 4.686 mm</text>
<rect x="682" y="19" width="4.4" height="131" fill="#f0fafa" opacity="0.45"/>
<g clip-path="url(#plot)" fill="none">
<path d="M604.00,63.35 L604.20,63.80 L604.40,64.27 L604.60,64.75 L604.80,65.23 L605.00,65.73 L605.20,66.24 L605.40,66.76 L605.60,67.30 L605.80,67.85 L606.00,68.41 L606.20,68.98 L606.40,69.57 L606.60,70.18 L606.80,70.80 L607.00,71.43 L607.20,72.08 L607.40,72.75 L607.60,73.44 L607.80,74.15 L608.00,74.88 L608.20,75.63 L608.40,76.40 L608.60,77.19 L608.80,78.00 L609.00,78.85 L609.20,79.71 L609.40,80.61 L609.60,81.54 L609.80,82.49 L610.00,83.48 L610.20,84.50 L610.40,85.56 L610.60,86.65 L610.80,87.79 L611.00,88.96 L611.20,90.18 L611.40,91.45 L611.60,92.76 L611.80,94.13 L612.00,95.54 L612.20,97.01 L612.40,98.53 L612.60,100.10 L612.80,101.71 L613.00,103.37 L613.20,105.05 L613.40,106.75 L613.60,108.44 L613.80,110.09 L614.00,111.65 L614.20,113.07 L614.40,114.28 L614.60,115.21 L614.80,115.80 L615.00,116.00 L615.00,116.00 L615.20,115.79 L615.40,115.18 L615.60,114.22 L615.80,112.98 L616.00,111.52 L616.20,109.93 L616.40,108.24 L616.60,106.52 L616.80,104.79 L617.00,103.08 L617.20,101.41 L617.40,99.77 L617.60,98.19 L617.80,96.66 L618.00,95.18 L618.20,93.75 L618.40,92.38 L618.60,91.06 L618.80,89.79 L619.00,88.56 L619.20,87.38 L619.40,86.24 L619.60,85.14 L619.80,84.08 L620.00,83.06 L620.20,82.07 L620.40,81.11 L620.60,80.18 L620.80,79.28 L621.00,78.42 L621.20,77.57 L621.40,76.76 L621.60,75.96 L621.80,75.19 L622.00,74.44 L622.20,73.72 L622.40,73.01 L622.60,72.32 L622.80,71.65 L623.00,71.00 L623.20,70.36 L623.40,69.74 L623.60,69.14 L623.80,68.55 L624.00,67.98 L624.20,67.42 L624.40,66.87 L624.60,66.34 L624.80,65.82 L625.00,65.31 L625.20,64.81 L625.40,64.33 L625.60,63.85 L625.80,63.39 L626.00,62.93 L626.20,62.49 L626.40,62.06 L626.60,61.63 L626.80,61.21 L627.00,60.81 L627.20,60.41 L627.40,60.02 L627.60,59.64 L627.80,59.27 L628.00,58.90 L628.20,58.54 L628.40,58.19 L628.60,57.85 L628.80,57.52 L629.00,57.19 L629.20,56.87 L629.40,56.55 L629.60,56.24 L629.80,55.94 L630.00,55.64 L630.20,55.35 L630.40,55.07 L630.60,54.79 L630.80,54.52 L631.00,54.25 L631.20,53.99 L631.40,53.74 L631.60,53.49 L631.80,53.24 L632.00,53.00 L632.20,52.77 L632.40,52.54 L632.60,52.32 L632.80,52.10 L633.00,51.88 L633.20,51.67 L633.40,51.47 L633.60,51.27 L633.80,51.07 L634.00,50.88 L634.20,50.70 L634.40,50.51 L634.60,50.33 L634.80,50.16 L635.00,49.99 L635.20,49.83 L635.40,49.67 L635.60,49.51 L635.80,49.35 L636.00,49.21 L636.20,49.06 L636.40,48.92 L636.60,48.78 L636.80,48.65 L637.00,48.52 L637.20,48.39 L637.40,48.27 L637.60,48.15 L637.80,48.04 L638.00,47.93 L638.20,47.82 L638.40,47.72 L638.60,47.62 L638.80,47.52 L639.00,47.43 L639.20,47.34 L639.40,47.25 L639.60,47.17 L639.80,47.09 L640.00,47.01 L640.20,46.94 L640.40,46.87 L640.60,46.81 L640.80,46.75 L641.00,46.69 L641.20,46.63 L641.40,46.58 L641.60,46.53 L641.80,46.48 L642.00,46.44 L642.20,46.40 L642.40,46.37 L642.60,46.34 L642.80,46.31 L643.00,46.28 L643.20,46.26 L643.40,46.24 L643.60,46.22 L643.80,46.21 L644.00,46.20 L644.20,46.19 L644.40,46.19 L644.60,46.19 L644.80,46.19 L645.00,46.20 L645.20,46.21 L645.40,46.22 L645.60,46.24 L645.80,46.26 L646.00,46.28 L646.20,46.31 L646.40,46.34 L646.60,46.37 L646.80,46.40 L647.00,46.44 L647.20,46.48 L647.40,46.53 L647.60,46.58 L647.80,46.63 L648.00,46.69 L648.20,46.74 L648.40,46.81 L648.60,46.87 L648.80,46.94 L649.00,47.01 L649.20,47.09 L649.40,47.17 L649.60,47.25 L649.80,47.33 L650.00,47.42 L650.20,47.52 L650.40,47.61 L650.60,47.71 L650.80,47.82 L651.00,47.92 L651.20,48.03 L651.40,48.15 L651.60,48.27 L651.80,48.39 L652.00,48.51 L652.20,48.64 L652.40,48.78 L652.60,48.91 L652.80,49.05 L653.00,49.20 L653.20,49.35 L653.40,49.50 L653.60,49.66 L653.80,49.82 L654.00,49.98 L654.20,50.15 L654.40,50.32 L654.60,50.50 L654.80,50.68 L655.00,50.87 L655.20,51.06 L655.40,51.25 L655.60,51.45 L655.80,51.66 L656.00,51.87 L656.20,52.08 L656.40,52.30 L656.60,52.52 L656.80,52.75 L657.00,52.98 L657.20,53.22 L657.40,53.46 L657.60,53.71 L657.80,53.97 L658.00,54.23 L658.20,54.49 L658.40,54.76 L658.60,55.04 L658.80,55.32 L659.00,55.61 L659.20,55.90 L659.40,56.21 L659.60,56.51 L659.80,56.83 L660.00,57.15 L660.20,57.47 L660.40,57.81 L660.60,58.15 L660.80,58.50 L661.00,58.85 L661.20,59.21 L661.40,59.58 L661.60,59.96 L661.80,60.35 L662.00,60.75 L662.20,61.15 L662.40,61.56 L662.60,61.98 L662.80,62.41 L663.00,62.85 L663.20,63.30 L663.40,63.76 L663.60,64.24 L663.80,64.72 L664.00,65.21 L664.20,65.71 L664.40,66.23 L664.60,66.76 L664.80,67.30 L665.00,67.85 L665.20,68.42 L665.40,69.00 L665.60,69.60 L665.80,70.21 L666.00,70.83 L666.20,71.48 L666.40,72.14 L666.60,72.81 L666.80,73.51 L667.00,74.22 L667.20,74.96 L667.40,75.72 L667.60,76.49 L667.80,77.29 L668.00,78.12 L668.20,78.97 L668.40,79.84 L668.60,80.74 L668.80,81.67 L669.00,82.63 L669.20,83.62 L669.40,84.65 L669.60,85.70 L669.80,86.80 L670.00,87.92 L670.20,89.09 L670.40,90.30 L670.60,91.55 L670.80,92.83 L671.00,94.16 L671.20,95.53 L671.40,96.94 L671.60,98.38 L671.80,99.85 L672.00,101.34 L672.20,102.84 L672.40,104.33 L672.60,105.79 L672.80,107.20 L673.00,108.50 L673.20,109.66 L673.40,110.64 L673.60,111.38 L673.80,111.84 L674.00,112.00 L674.00,112.00 L674.20,111.85 L674.40,111.40 L674.60,110.68 L674.80,109.73 L675.00,108.60 L675.20,107.33 L675.40,105.96 L675.60,104.53 L675.80,103.07 L676.00,101.59 L676.20,100.12 L676.40,98.67 L676.60,97.25 L676.80,95.86 L677.00,94.50 L677.20,93.18 L677.40,91.91 L677.60,90.67 L677.80,89.47 L678.00,88.31 L678.20,87.19 L678.40,86.10 L678.60,85.05 L678.80,84.03 L679.00,83.04 L679.20,82.08 L679.40,81.16 L679.60,80.26 L679.80,79.38 L680.00,78.54 L680.20,77.72 L680.40,76.92 L680.60,76.14 L680.80,75.39 L681.00,74.65 L681.20,73.94 L681.40,73.24 L681.60,72.56 L681.80,71.90 L682.00,71.26 L682.20,70.63 L682.40,70.02 L682.60,69.43 L682.80,68.84 L683.00,68.28 L683.20,67.72 L683.40,67.18 L683.60,66.65 L683.80,66.13 L684.00,65.63 L684.20,65.13 L684.40,64.65 L684.60,64.18 L684.80,63.72 L685.00,63.27 L685.20,62.82 L685.40,62.39 L685.60,61.97 L685.80,61.55 L686.00,61.15 L686.20,60.75 L686.40,60.36 L686.60,59.98 L686.80,59.61 L687.00,59.24 L687.20,58.89 L687.40,58.54 L687.60,58.19 L687.80,57.86 L688.00,57.53 L688.20,57.21 L688.40,56.89 L688.60,56.58 L688.80,56.28 L689.00,55.98 L689.20,55.69 L689.40,55.40 L689.60,55.12 L689.80,54.85 L690.00,54.58 L690.20,54.32 L690.40,54.06 L690.60,53.81 L690.80,53.56 L691.00,53.32 L691.20,53.09 L691.40,52.85 L691.60,52.63 L691.80,52.41 L692.00,52.19 L692.20,51.98 L692.40,51.77 L692.60,51.56 L692.80,51.37 L693.00,51.17 L693.20,50.98 L693.40,50.80 L693.60,50.61 L693.80,50.44 L694.00,50.26 L694.20,50.10 L694.40,49.93 L694.60,49.77 L694.80,49.61 L695.00,49.46 L695.20,49.31 L695.40,49.17 L695.60,49.02 L695.80,48.89 L696.00,48.75 L696.20,48.62 L696.40,48.50 L696.60,48.37 L696.80,48.25 L697.00,48.14 L697.20,48.03 L697.40,47.92 L697.60,47.81 L697.80,47.71 L698.00,47.61 L698.20,47.52 L698.40,47.43 L698.60,47.34 L698.80,47.25 L699.00,47.17 L699.20,47.10 L699.40,47.02 L699.60,46.95 L699.80,46.88 L700.00,46.82 L700.20,46.76 L700.40,46.70 L700.60,46.64 L700.80,46.59 L701.00,46.54 L701.20,46.50 L701.40,46.45 L701.60,46.41 L701.80,46.38 L702.00,46.35 L702.20,46.32 L702.40,46.29 L702.60,46.27 L702.80,46.25 L703.00,46.23 L703.20,46.21 L703.40,46.20 L703.60,46.20 L703.80,46.19 L704.00,46.19 L704.20,46.19 L704.40,46.20 L704.60,46.20 L704.80,46.21 L705.00,46.23 L705.20,46.25 L705.40,46.27 L705.60,46.29 L705.80,46.32 L706.00,46.35 L706.20,46.38 L706.40,46.41 L706.60,46.45 L706.80,46.50 L707.00,46.54 L707.20,46.59 L707.40,46.64 L707.60,46.70 L707.80,46.76 L708.00,46.82 L708.20,46.88 L708.40,46.95 L708.60,47.02 L708.80,47.10 L709.00,47.17 L709.20,47.26 L709.40,47.34 L709.60,47.43 L709.80,47.52 L710.00,47.62 L710.20,47.71 L710.40,47.82 L710.60,47.92 L710.80,48.03 L711.00,48.14 L711.20,48.26 L711.40,48.38 L711.60,48.50 L711.80,48.63 L712.00,48.76 L712.20,48.89 L712.40,49.03 L712.60,49.17 L712.80,49.32 L713.00,49.47 L713.20,49.62 L713.40,49.78 L713.60,49.94 L713.80,50.10 L714.00,50.27 L714.20,50.44 L714.40,50.62 L714.60,50.80 L714.80,50.99 L715.00,51.18 L715.20,51.37 L715.40,51.57 L715.60,51.78 L715.80,51.99 L716.00,52.20 L716.20,52.42 L716.40,52.64 L716.60,52.87 L716.80,53.10 L717.00,53.33 L717.20,53.58 L717.40,53.82 L717.60,54.08 L717.80,54.33 L718.00,54.60 L718.20,54.87 L718.40,55.14 L718.60,55.42 L718.80,55.71 L719.00,56.00 L719.20,56.30 L719.40,56.60 L719.60,56.91 L719.80,57.23 L720.00,57.55 L720.20,57.88 L720.40,58.22 L720.60,58.56 L720.80,58.91 L721.00,59.27 L721.20,59.64 L721.40,60.01 L721.60,60.40 L721.80,60.79 L722.00,61.18 L722.20,61.59 L722.40,62.01 L722.60,62.43 L722.80,62.87 L723.00,63.31 L723.20,63.76 L723.40,64.23 L723.60,64.70 L723.80,65.19 L724.00,65.68 L724.20,66.19 L724.40,66.71 L724.60,67.24 L724.80,67.79 L725.00,68.35 L725.20,68.92 L725.40,69.50 L725.60,70.10 L725.80,70.72 L726.00,71.35 L726.20,72.00 L726.40,72.67 L726.60,73.35 L726.80,74.05 L727.00,74.77 L727.20,75.51 L727.40,76.28 L727.60,77.06 L727.80,77.87 L728.00,78.70 L728.20,79.56 L728.40,80.44 L728.60,81.36 L728.80,82.30 L729.00,83.27 L729.20,84.28 L729.40,85.32 L729.60,86.39 L729.80,87.50 L730.00,88.66 L730.20,89.85 L730.40,91.08 L730.60,92.36 L730.80,93.68 L731.00,95.05 L731.20,96.46 L731.40,97.92 L731.60,99.42 L731.80,100.95 L732.00,102.51 L732.20,104.09 L732.40,105.68 L732.60,107.24 L732.80,108.74 L733.00,110.15 L733.20,111.42 L733.40,112.49 L733.60,113.31 L733.80,113.82 L734.00,114.00 L734.00,114.00 L734.20,113.82 L734.40,113.31 L734.60,112.49 L734.80,111.42 L735.00,110.15 L735.20,108.74 L735.40,107.24 L735.60,105.68 L735.80,104.09 L736.00,102.51 L736.20,100.95 L736.40,99.42 L736.60,97.92 L736.80,96.46 L737.00,95.05 L737.20,93.68 L737.40,92.36 L737.60,91.08 L737.80,89.85 L738.00,88.66 L738.20,87.50 L738.40,86.39 L738.60,85.32 L738.80,84.28 L739.00,83.27 L739.20,82.30 L739.40,81.36 L739.60,80.44 L739.80,79.56 L740.00,78.70 L740.20,77.87 L740.40,77.06 L740.60,76.28 L740.80,75.51 L741.00,74.77 L741.20,74.05 L741.40,73.35 L741.60,72.67 L741.80,72.00 L742.00,71.35 L742.20,70.72 L742.40,70.10 L742.60,69.50 L742.80,68.92 L743.00,68.35 L743.20,67.79 L743.40,67.24 L743.60,66.71 L743.80,66.19 L744.00,65.68 L744.20,65.19 L744.40,64.70 L744.60,64.23 L744.80,63.76 L745.00,63.31 L745.20,62.87 L745.40,62.43 L745.60,62.01 L745.80,61.59 L746.00,61.18 L746.20,60.79 L746.40,60.40 L746.60,60.01 L746.80,59.64 L747.00,59.27 L747.20,58.91 L747.40,58.56 L747.60,58.22 L747.80,57.88 L748.00,57.55 L748.20,57.23 L748.40,56.91 L748.60,56.60 L748.80,56.30 L749.00,56.00 L749.20,55.71 L749.40,55.42 L749.60,55.14 L749.80,54.87 L750.00,54.60 L750.20,54.33 L750.40,54.08 L750.60,53.82 L750.80,53.58 L751.00,53.33 L751.20,53.10 L751.40,52.87 L751.60,52.64 L751.80,52.42 L752.00,52.20 L752.20,51.99 L752.40,51.78 L752.60,51.57 L752.80,51.37 L753.00,51.18 L753.20,50.99 L753.40,50.80 L753.60,50.62 L753.80,50.44 L754.00,50.27 L754.20,50.10 L754.40,49.94 L754.60,49.78 L754.80,49.62 L755.00,49.47 L755.20,49.32 L755.40,49.17 L755.60,49.03 L755.80,48.89 L756.00,48.76 L756.20,48.63 L756.40,48.50 L756.60,48.38 L756.80,48.26 L757.00,48.14 L757.20,48.03 L757.40,47.92 L757.60,47.82 L757.80,47.71 L758.00,47.62 L758.20,47.52 L758.40,47.43 L758.60,47.34 L758.80,47.26 L759.00,47.17 L759.20,47.10 L759.40,47.02 L759.60,46.95 L759.80,46.88 L760.00,46.82 L760.20,46.76 L760.40,46.70 L760.60,46.64 L760.80,46.59 L761.00,46.54 L761.20,46.50 L761.40,46.45 L761.60,46.41 L761.80,46.38 L762.00,46.35 L762.20,46.32 L762.40,46.29 L762.60,46.27 L762.80,46.25 L763.00,46.23 L763.20,46.21 L763.40,46.20 L763.60,46.20 L763.80,46.19 L764.00,46.19 L764.20,46.19 L764.40,46.20 L764.60,46.20 L764.80,46.21 L765.00,46.23 L765.20,46.25 L765.40,46.27 L765.60,46.29 L765.80,46.32 L766.00,46.35 L766.20,46.38 L766.40,46.41 L766.60,46.45 L766.80,46.50 L767.00,46.54 L767.20,46.59 L767.40,46.64 L767.60,46.70 L767.80,46.75 L768.00,46.82 L768.20,46.88 L768.40,46.95 L768.60,47.02 L768.80,47.09" stroke="#f7c0b2" stroke-width="0.95" stroke-dasharray="3.2,4"/>
<path d="M604.00,55.91 L604.20,55.60 L604.40,55.30 L604.60,55.00 L604.80,54.71 L605.00,54.42 L605.20,54.14 L605.40,53.87 L605.60,53.60 L605.80,53.34 L606.00,53.09 L606.20,52.83 L606.40,52.59 L606.60,52.35 L606.80,52.11 L607.00,51.88 L607.20,51.66 L607.40,51.44 L607.60,51.22 L607.80,51.01 L608.00,50.80 L608.20,50.60 L608.40,50.41 L608.60,50.21 L608.80,50.03 L609.00,49.84 L609.20,49.66 L609.40,49.49 L609.60,49.32 L609.80,49.15 L610.00,48.99 L610.20,48.83 L610.40,48.68 L610.60,48.53 L610.80,48.38 L611.00,48.24 L611.20,48.10 L611.40,47.97 L611.60,47.84 L611.80,47.71 L612.00,47.59 L612.20,47.47 L612.40,47.36 L612.60,47.25 L612.80,47.14 L613.00,47.03 L613.20,46.93 L613.40,46.84 L613.60,46.74 L613.80,46.66 L614.00,46.57 L614.20,46.49 L614.40,46.41 L614.60,46.33 L614.80,46.26 L615.00,46.19 L615.20,46.13 L615.40,46.07 L615.60,46.01 L615.80,45.95 L616.00,45.90 L616.20,45.85 L616.40,45.81 L616.60,45.77 L616.80,45.73 L617.00,45.69 L617.20,45.66 L617.40,45.64 L617.60,45.61 L617.80,45.59 L618.00,45.57 L618.20,45.56 L618.40,45.54 L618.60,45.54 L618.80,45.53 L619.00,45.53 L619.20,45.53 L619.40,45.54 L619.60,45.54 L619.80,45.56 L620.00,45.57 L620.20,45.59 L620.40,45.61 L620.60,45.64 L620.80,45.66 L621.00,45.69 L621.20,45.73 L621.40,45.77 L621.60,45.81 L621.80,45.85 L622.00,45.90 L622.20,45.95 L622.40,46.01 L622.60,46.06 L622.80,46.13 L623.00,46.19 L623.20,46.26 L623.40,46.33 L623.60,46.41 L623.80,46.48 L624.00,46.57 L624.20,46.65 L624.40,46.74 L624.60,46.83 L624.80,46.93 L625.00,47.03 L625.20,47.13 L625.40,47.24 L625.60,47.35 L625.80,47.47 L626.00,47.58 L626.20,47.71 L626.40,47.83 L626.60,47.96 L626.80,48.10 L627.00,48.23 L627.20,48.37 L627.40,48.52 L627.60,48.67 L627.80,48.82 L628.00,48.98 L628.20,49.14 L628.40,49.31 L628.60,49.48 L628.80,49.65 L629.00,49.83 L629.20,50.01 L629.40,50.20 L629.60,50.39 L629.80,50.59 L630.00,50.79 L630.20,50.99 L630.40,51.20 L630.60,51.42 L630.80,51.64 L631.00,51.86 L631.20,52.09 L631.40,52.32 L631.60,52.56 L631.80,52.81 L632.00,53.06 L632.20,53.31 L632.40,53.57 L632.60,53.84 L632.80,54.11 L633.00,54.39 L633.20,54.67 L633.40,54.96 L633.60,55.26 L633.80,55.56 L634.00,55.87 L634.20,56.18 L634.40,56.50 L634.60,56.83 L634.80,57.16 L635.00,57.50 L635.20,57.85 L635.40,58.20 L635.60,58.57 L635.80,58.94 L636.00,59.31 L636.20,59.70 L636.40,60.09 L636.60,60.50 L636.80,60.91 L637.00,61.32 L637.20,61.75 L637.40,62.19 L637.60,62.64 L637.80,63.09 L638.00,63.56 L638.20,64.03 L638.40,64.52 L638.60,65.01 L638.80,65.52 L639.00,66.04 L639.20,66.57 L639.40,67.11 L639.60,67.66 L639.80,68.23 L640.00,68.81 L640.20,69.40 L640.40,70.01 L640.60,70.63 L640.80,71.26 L641.00,71.91 L641.20,72.57 L641.40,73.25 L641.60,73.95 L641.80,74.66 L642.00,75.38 L642.20,76.13 L642.40,76.89 L642.60,77.67 L642.80,78.46 L643.00,79.27 L643.20,80.10 L643.40,80.95 L643.60,81.82 L643.80,82.70 L644.00,83.60 L644.20,84.51 L644.40,85.43 L644.60,86.37 L644.80,87.32 L645.00,88.27 L645.20,89.22 L645.40,90.17 L645.60,91.12 L645.80,92.04 L646.00,92.95 L646.20,93.82 L646.40,94.65 L646.60,95.42 L646.80,96.13 L647.00,96.76 L647.20,97.29 L647.40,97.73 L647.60,98.04 L647.80,98.24 L648.00,98.30 L648.00,98.30 L648.20,98.23 L648.40,98.03 L648.60,97.71 L648.80,97.27 L649.00,96.72 L649.20,96.07 L649.40,95.35 L649.60,94.56 L649.80,93.71 L650.00,92.82 L650.20,91.90 L650.40,90.96 L650.60,90.00 L650.80,89.04 L651.00,88.07 L651.20,87.10 L651.40,86.15 L651.60,85.20 L651.80,84.27 L652.00,83.34 L652.20,82.44 L652.40,81.55 L652.60,80.68 L652.80,79.82 L653.00,78.99 L653.20,78.17 L653.40,77.37 L653.60,76.59 L653.80,75.82 L654.00,75.08 L654.20,74.35 L654.40,73.63 L654.60,72.94 L654.80,72.25 L655.00,71.59 L655.20,70.94 L655.40,70.30 L655.60,69.68 L655.80,69.08 L656.00,68.48 L656.20,67.90 L656.40,67.34 L656.60,66.78 L656.80,66.24 L657.00,65.71 L657.20,65.19 L657.40,64.69 L657.60,64.19 L657.80,63.71 L658.00,63.23 L658.20,62.77 L658.40,62.31 L658.60,61.86 L658.80,61.43 L659.00,61.00 L659.20,60.58 L659.40,60.17 L659.60,59.77 L659.80,59.38 L660.00,59.00 L660.20,58.62 L660.40,58.25 L660.60,57.89 L660.80,57.54 L661.00,57.19 L661.20,56.85 L661.40,56.52 L661.60,56.19 L661.80,55.88 L662.00,55.56 L662.20,55.26 L662.40,54.96 L662.60,54.67 L662.80,54.38 L663.00,54.10 L663.20,53.82 L663.40,53.55 L663.60,53.29 L663.80,53.03 L664.00,52.78 L664.20,52.53 L664.40,52.29 L664.60,52.05 L664.80,51.82 L665.00,51.59 L665.20,51.37 L665.40,51.16 L665.60,50.94 L665.80,50.74 L666.00,50.53 L666.20,50.34 L666.40,50.14 L666.60,49.96 L666.80,49.77 L667.00,49.59 L667.20,49.42 L667.40,49.25 L667.60,49.08 L667.80,48.92 L668.00,48.76 L668.20,48.61 L668.40,48.46 L668.60,48.31 L668.80,48.17 L669.00,48.03 L669.20,47.90 L669.40,47.77 L669.60,47.64 L669.80,47.52 L670.00,47.40 L670.20,47.29 L670.40,47.18 L670.60,47.07 L670.80,46.97 L671.00,46.87 L671.20,46.78 L671.40,46.68 L671.60,46.60 L671.80,46.51 L672.00,46.43 L672.20,46.35 L672.40,46.28 L672.60,46.21 L672.80,46.14 L673.00,46.08 L673.20,46.02 L673.40,45.96 L673.60,45.91 L673.80,45.86 L674.00,45.82 L674.20,45.77 L674.40,45.73 L674.60,45.70 L674.80,45.67 L675.00,45.64 L675.20,45.61 L675.40,45.59 L675.60,45.57 L675.80,45.56 L676.00,45.55 L676.20,45.54 L676.40,45.53 L676.60,45.53 L676.80,45.53 L677.00,45.54 L677.20,45.53 L677.40,45.54 L677.60,45.54 L677.80,45.55 L678.00,45.56 L678.20,45.58 L678.40,45.59 L678.60,45.62 L678.80,45.64 L679.00,45.67 L679.20,45.70 L679.40,45.74 L679.60,45.78 L679.80,45.82 L680.00,45.86 L680.20,45.91 L680.40,45.97 L680.60,46.02 L680.80,46.08 L681.00,46.15 L681.20,46.21 L681.40,46.28 L681.60,46.36 L681.80,46.43 L682.00,46.51 L682.20,46.60 L682.40,46.69 L682.60,46.78 L682.80,46.88 L683.00,46.97 L683.20,47.08 L683.40,47.18 L683.60,47.30 L683.80,47.41 L684.00,47.53 L684.20,47.65 L684.40,47.78 L684.60,47.91 L684.80,48.04 L685.00,48.18 L685.20,48.32 L685.40,48.47 L685.60,48.62 L685.80,48.78 L686.00,48.94 L686.20,49.10 L686.40,49.27 L686.60,49.44 L686.80,49.62 L687.00,49.80 L687.20,49.98 L687.40,50.17 L687.60,50.37 L687.80,50.57 L688.00,50.77 L688.20,50.98 L688.40,51.20 L688.60,51.42 L688.80,51.64 L689.00,51.87 L689.20,52.11 L689.40,52.35 L689.60,52.60 L689.80,52.85 L690.00,53.10 L690.20,53.37 L690.40,53.64 L690.60,53.91 L690.80,54.19 L691.00,54.48 L691.20,54.77 L691.40,55.07 L691.60,55.38 L691.80,55.69 L692.00,56.01 L692.20,56.33 L692.40,56.66 L692.60,57.00 L692.80,57.35 L693.00,57.71 L693.20,58.07 L693.40,58.44 L693.60,58.82 L693.80,59.20 L694.00,59.60 L694.20,60.00 L694.40,60.41 L694.60,60.83 L694.80,61.26 L695.00,61.70 L695.20,62.15 L695.40,62.60 L695.60,63.07 L695.80,63.55 L696.00,64.04 L696.20,64.54 L696.40,65.05 L696.60,65.57 L696.80,66.11 L697.00,66.65 L697.20,67.21 L697.40,67.78 L697.60,68.37 L697.80,68.96 L698.00,69.57 L698.20,70.20 L698.40,70.84 L698.60,71.49 L698.80,72.16 L699.00,72.84 L699.20,73.54 L699.40,74.25 L699.60,74.98 L699.80,75.73 L700.00,76.49 L700.20,77.27 L700.40,78.06 L700.60,78.87 L700.80,79.70 L701.00,80.54 L701.20,81.39 L701.40,82.25 L701.60,83.13 L701.80,84.01 L702.00,84.90 L702.20,85.79 L702.40,86.68 L702.60,87.57 L702.80,88.44 L703.00,89.30 L703.20,90.14 L703.40,90.94 L703.60,91.70 L703.80,92.40 L704.00,93.04 L704.20,93.61 L704.40,94.10 L704.60,94.48 L704.80,94.77 L705.00,94.94 L705.20,95.00 L705.20,95.00 L705.40,94.94 L705.60,94.78 L705.80,94.50 L706.00,94.12 L706.20,93.65 L706.40,93.10 L706.60,92.47 L706.80,91.77 L707.00,91.02 L707.20,90.23 L707.40,89.41 L707.60,88.55 L707.80,87.68 L708.00,86.79 L708.20,85.90 L708.40,85.00 L708.60,84.11 L708.80,83.22 L709.00,82.34 L709.20,81.46 L709.40,80.60 L709.60,79.75 L709.80,78.91 L710.00,78.09 L710.20,77.28 L710.40,76.48 L710.60,75.71 L710.80,74.94 L711.00,74.20 L711.20,73.46 L711.40,72.75 L711.60,72.04 L711.80,71.36 L712.00,70.68 L712.20,70.02 L712.40,69.38 L712.60,68.75 L712.80,68.13 L713.00,67.52 L713.20,66.93 L713.40,66.35 L713.60,65.79 L713.80,65.23 L714.00,64.69 L714.20,64.15 L714.40,63.63 L714.60,63.12 L714.80,62.62 L715.00,62.13 L715.20,61.65 L715.40,61.18 L715.60,60.72 L715.80,60.26 L716.00,59.82 L716.20,59.39 L716.40,58.96 L716.60,58.54 L716.80,58.13 L717.00,57.73 L717.20,57.34 L717.40,56.95 L717.60,56.58 L717.80,56.21 L718.00,55.84 L718.20,55.49 L718.40,55.14 L718.60,54.79 L718.80,54.46 L719.00,54.13 L719.20,53.81 L719.40,53.49 L719.60,53.18 L719.80,52.87 L720.00,52.57 L720.20,52.28 L720.40,51.99 L720.60,51.71 L720.80,51.44 L721.00,51.17 L721.20,50.90 L721.40,50.64 L721.60,50.39 L721.80,50.14 L722.00,49.89 L722.20,49.65 L722.40,49.42 L722.60,49.19 L722.80,48.96 L723.00,48.74 L723.20,48.53 L723.40,48.32 L723.60,48.11 L723.80,47.91 L724.00,47.71 L724.20,47.52 L724.40,47.33 L724.60,47.14 L724.80,46.96 L725.00,46.78 L725.20,46.61 L725.40,46.44 L725.60,46.28 L725.80,46.12 L726.00,45.96 L726.20,45.81 L726.40,45.66 L726.60,45.52 L726.80,45.38 L727.00,45.24 L727.20,45.11 L727.40,44.98 L727.60,44.85 L727.80,44.73 L728.00,44.61 L728.20,44.49 L728.40,44.38 L728.60,44.27 L728.80,44.17 L729.00,44.07 L729.20,43.97 L729.40,43.88 L729.60,43.79 L729.80,43.70 L730.00,43.62 L730.20,43.54 L730.40,43.46 L730.60,43.39 L730.80,43.32 L731.00,43.25 L731.20,43.19 L731.40,43.13 L731.60,43.07 L731.80,43.02 L732.00,42.97 L732.20,42.92 L732.40,42.88 L732.60,42.84 L732.80,42.80 L733.00,42.77 L733.20,42.74 L733.40,42.71 L733.60,42.68 L733.80,42.66 L734.00,42.65 L734.20,42.63 L734.40,42.62 L734.60,42.61 L734.80,42.61 L735.00,42.61 L735.20,42.61 L735.40,42.62 L735.60,42.62 L735.80,42.65 L736.00,42.67 L736.20,42.70 L736.40,42.73 L736.60,42.77 L736.80,42.81 L737.00,42.85 L737.20,42.89 L737.40,42.94 L737.60,42.99 L737.80,43.05 L738.00,43.11 L738.20,43.17 L738.40,43.24 L738.60,43.30 L738.80,43.38 L739.00,43.45 L739.20,43.53 L739.40,43.61 L739.60,43.70 L739.80,43.79 L740.00,43.88 L740.20,43.98 L740.40,44.08 L740.60,44.19 L740.80,44.29 L741.00,44.40 L741.20,44.52 L741.40,44.64 L741.60,44.76 L741.80,44.89 L742.00,45.02 L742.20,45.15 L742.40,45.29 L742.60,45.43 L742.80,45.58 L743.00,45.73 L743.20,45.88 L743.40,46.04 L743.60,46.20 L743.80,46.37 L744.00,46.54 L744.20,46.71 L744.40,46.89 L744.60,47.08 L744.80,47.26 L745.00,47.46 L745.20,47.65 L745.40,47.85 L745.60,48.06 L745.80,48.27 L746.00,48.49 L746.20,48.71 L746.40,48.93 L746.60,49.16 L746.80,49.40 L747.00,49.64 L747.20,49.89 L747.40,50.14 L747.60,50.39 L747.80,50.65 L748.00,50.92 L748.20,51.20 L748.40,51.47 L748.60,51.76 L748.80,52.05 L749.00,52.35 L749.20,52.65 L749.40,52.96 L749.60,53.28 L749.80,53.60 L750.00,53.93 L750.20,54.27 L750.40,54.61 L750.60,54.96 L750.80,55.32 L751.00,55.68 L751.20,56.06 L751.40,56.44 L751.60,56.83 L751.80,57.23 L752.00,57.63 L752.20,58.05 L752.40,58.47 L752.60,58.90 L752.80,59.35 L753.00,59.80 L753.20,60.26 L753.40,60.73 L753.60,61.22 L753.80,61.71 L754.00,62.21 L754.20,62.73 L754.40,63.26 L754.60,63.80 L754.80,64.35 L755.00,64.92 L755.20,65.50 L755.40,66.09 L755.60,66.70 L755.80,67.32 L756.00,67.96 L756.20,68.61 L756.40,69.28 L756.60,69.96 L756.80,70.67 L757.00,71.39 L757.20,72.13 L757.40,72.89 L757.60,73.67 L757.80,74.47 L758.00,75.29 L758.20,76.13 L758.40,76.99 L758.60,77.88 L758.80,78.79 L759.00,79.72 L759.20,80.68 L759.40,81.66 L759.60,82.67 L759.80,83.69 L760.00,84.74 L760.20,85.81 L760.40,86.90 L760.60,88.01 L760.80,89.13 L761.00,90.25 L761.20,91.37 L761.40,92.49 L761.60,93.59 L761.80,94.65 L762.00,95.68 L762.20,96.63 L762.40,97.51 L762.60,98.29 L762.80,98.94 L763.00,99.45 L763.20,99.80 L763.40,99.98 L763.50,100.00 L763.60,99.98 L763.80,99.80 L764.00,99.45 L764.20,98.95 L764.40,98.30 L764.60,97.53 L764.80,96.65 L765.00,95.70 L765.20,94.68 L765.40,93.62 L765.60,92.53 L765.80,91.42 L766.00,90.30 L766.20,89.18 L766.40,88.06 L766.60,86.96 L766.80,85.88 L767.00,84.81 L767.20,83.76 L767.40,82.74 L767.60,81.73 L767.80,80.75 L768.00,79.80 L768.20,78.87 L768.40,77.96 L768.60,77.07 L768.80,76.21" stroke="#4aa8dc" stroke-width="1" stroke-dasharray="5,2,1.2,2"/>
<path d="M604.00,51.98 L604.20,52.17 L604.40,52.36 L604.60,52.56 L604.80,52.76 L605.00,52.96 L605.20,53.17 L605.40,53.38 L605.60,53.60 L605.80,53.82 L606.00,54.05 L606.20,54.28 L606.40,54.52 L606.60,54.76 L606.80,55.01 L607.00,55.26 L607.20,55.52 L607.40,55.78 L607.60,56.05 L607.80,56.32 L608.00,56.60 L608.20,56.89 L608.40,57.18 L608.60,57.47 L608.80,57.78 L609.00,58.08 L609.20,58.40 L609.40,58.72 L609.60,59.05 L609.80,59.38 L610.00,59.72 L610.20,60.07 L610.40,60.43 L610.60,60.79 L610.80,61.16 L611.00,61.54 L611.20,61.93 L611.40,62.32 L611.60,62.72 L611.80,63.14 L612.00,63.56 L612.20,63.98 L612.40,64.42 L612.60,64.87 L612.80,65.33 L613.00,65.79 L613.20,66.27 L613.40,66.76 L613.60,67.26 L613.80,67.77 L614.00,68.29 L614.20,68.83 L614.40,69.37 L614.60,69.93 L614.80,70.51 L615.00,71.09 L615.20,71.69 L615.40,72.31 L615.60,72.94 L615.80,73.59 L616.00,74.25 L616.20,74.93 L616.40,75.63 L616.60,76.34 L616.80,77.08 L617.00,77.83 L617.20,78.61 L617.40,79.40 L617.60,80.22 L617.80,81.06 L618.00,81.92 L618.20,82.81 L618.40,83.72 L618.60,84.66 L618.80,85.63 L619.00,86.62 L619.20,87.64 L619.40,88.68 L619.60,89.76 L619.80,90.86 L620.00,91.98 L620.20,93.13 L620.40,94.31 L620.60,95.50 L620.80,96.71 L621.00,97.92 L621.20,99.13 L621.40,100.34 L621.60,101.52 L621.80,102.66 L622.00,103.73 L622.20,104.73 L622.40,105.61 L622.60,106.37 L622.80,106.96 L623.00,107.36 L623.20,107.57 L623.30,107.60 L623.40,107.57 L623.60,107.36 L623.80,106.96 L624.00,106.36 L624.20,105.61 L624.40,104.72 L624.60,103.72 L624.80,102.64 L625.00,101.49 L625.20,100.31 L625.40,99.09 L625.60,97.87 L625.80,96.65 L626.00,95.43 L626.20,94.23 L626.40,93.05 L626.60,91.89 L626.80,90.75 L627.00,89.64 L627.20,88.56 L627.40,87.50 L627.60,86.47 L627.80,85.47 L628.00,84.50 L628.20,83.55 L628.40,82.63 L628.60,81.73 L628.80,80.86 L629.00,80.01 L629.20,79.18 L629.40,78.38 L629.60,77.59 L629.80,76.83 L630.00,76.08 L630.20,75.36 L630.40,74.65 L630.60,73.96 L630.80,73.29 L631.00,72.64 L631.20,71.99 L631.40,71.37 L631.60,70.76 L631.80,70.16 L632.00,69.58 L632.20,69.01 L632.40,68.46 L632.60,67.91 L632.80,67.38 L633.00,66.86 L633.20,66.35 L633.40,65.86 L633.60,65.37 L633.80,64.89 L634.00,64.43 L634.20,63.97 L634.40,63.52 L634.60,63.09 L634.80,62.66 L635.00,62.24 L635.20,61.82 L635.40,61.42 L635.60,61.03 L635.80,60.64 L636.00,60.26 L636.20,59.89 L636.40,59.52 L636.60,59.16 L636.80,58.81 L637.00,58.47 L637.20,58.13 L637.40,57.80 L637.60,57.48 L637.80,57.16 L638.00,56.85 L638.20,56.55 L638.40,56.25 L638.60,55.95 L638.80,55.66 L639.00,55.38 L639.20,55.10 L639.40,54.83 L639.60,54.57 L639.80,54.31 L640.00,54.05 L640.20,53.80 L640.40,53.55 L640.60,53.31 L640.80,53.08 L641.00,52.85 L641.20,52.62 L641.40,52.40 L641.60,52.18 L641.80,51.97 L642.00,51.76 L642.20,51.55 L642.40,51.35 L642.60,51.16 L642.80,50.97 L643.00,50.78 L643.20,50.60 L643.40,50.42 L643.60,50.24 L643.80,50.07 L644.00,49.90 L644.20,49.74 L644.40,49.58 L644.60,49.42 L644.80,49.27 L645.00,49.12 L645.20,48.98 L645.40,48.83 L645.60,48.70 L645.80,48.56 L646.00,48.43 L646.20,48.30 L646.40,48.18 L646.60,48.06 L646.80,47.94 L647.00,47.83 L647.20,47.72 L647.40,47.61 L647.60,47.51 L647.80,47.41 L648.00,47.31 L648.20,47.22 L648.40,47.13 L648.60,47.04 L648.80,46.95 L649.00,46.87 L649.20,46.80 L649.40,46.72 L649.60,46.65 L649.80,46.58 L650.00,46.52 L650.20,46.45 L650.40,46.39 L650.60,46.34 L650.80,46.29 L651.00,46.24 L651.20,46.19 L651.40,46.15 L651.60,46.10 L651.80,46.07 L652.00,46.03 L652.20,46.00 L652.40,45.97 L652.60,45.94 L652.80,45.92 L653.00,45.90 L653.20,45.89 L653.40,45.87 L653.60,45.88 L653.80,45.88 L654.00,45.89 L654.20,45.91 L654.40,45.92 L654.60,45.94 L654.80,45.97 L655.00,45.99 L655.20,46.02 L655.40,46.05 L655.60,46.08 L655.80,46.12 L656.00,46.16 L656.20,46.20 L656.40,46.25 L656.60,46.30 L656.80,46.35 L657.00,46.40 L657.20,46.46 L657.40,46.52 L657.60,46.59 L657.80,46.65 L658.00,46.72 L658.20,46.80 L658.40,46.87 L658.60,46.95 L658.80,47.03 L659.00,47.12 L659.20,47.20 L659.40,47.29 L659.60,47.39 L659.80,47.49 L660.00,47.59 L660.20,47.69 L660.40,47.80 L660.60,47.91 L660.80,48.02 L661.00,48.14 L661.20,48.26 L661.40,48.38 L661.60,48.51 L661.80,48.63 L662.00,48.77 L662.20,48.90 L662.40,49.04 L662.60,49.19 L662.80,49.33 L663.00,49.48 L663.20,49.64 L663.40,49.79 L663.60,49.96 L663.80,50.12 L664.00,50.29 L664.20,50.46 L664.40,50.64 L664.60,50.81 L664.80,51.00 L665.00,51.18 L665.20,51.38 L665.40,51.57 L665.60,51.77 L665.80,51.97 L666.00,52.18 L666.20,52.39 L666.40,52.61 L666.60,52.83 L666.80,53.05 L667.00,53.28 L667.20,53.51 L667.40,53.75 L667.60,53.99 L667.80,54.23 L668.00,54.48 L668.20,54.74 L668.40,55.00 L668.60,55.27 L668.80,55.54 L669.00,55.81 L669.20,56.09 L669.40,56.38 L669.60,56.67 L669.80,56.96 L670.00,57.26 L670.20,57.57 L670.40,57.88 L670.60,58.20 L670.80,58.52 L671.00,58.85 L671.20,59.19 L671.40,59.53 L671.60,59.88 L671.80,60.23 L672.00,60.59 L672.20,60.96 L672.40,61.33 L672.60,61.72 L672.80,62.10 L673.00,62.50 L673.20,62.90 L673.40,63.31 L673.60,63.73 L673.80,64.15 L674.00,64.58 L674.20,65.03 L674.40,65.47 L674.60,65.93 L674.80,66.40 L675.00,66.87 L675.20,67.35 L675.40,67.85 L675.60,68.35 L675.80,68.86 L676.00,69.38 L676.20,69.91 L676.40,70.45 L676.60,71.00 L676.80,71.56 L677.00,72.12 L677.20,72.70 L677.40,73.30 L677.60,73.90 L677.80,74.51 L678.00,75.13 L678.20,75.76 L678.40,76.41 L678.60,77.06 L678.80,77.73 L679.00,78.40 L679.20,79.09 L679.40,79.78 L679.60,80.48 L679.80,81.19 L680.00,81.91 L680.20,82.64 L680.40,83.37 L680.60,84.10 L680.80,84.84 L681.00,85.57 L681.20,86.31 L681.40,87.04 L681.60,87.76 L681.80,88.47 L682.00,89.16 L682.20,89.84 L682.40,90.49 L682.60,91.11 L682.80,91.69 L683.00,92.24 L683.20,92.74 L683.40,93.19 L683.60,93.57 L683.80,93.90 L684.00,94.16 L684.20,94.35 L684.40,94.46 L684.60,94.50 L684.60,94.50 L684.80,94.46 L685.00,94.34 L685.20,94.15 L685.40,93.88 L685.60,93.55 L685.80,93.15 L686.00,92.70 L686.20,92.19 L686.40,91.64 L686.60,91.05 L686.80,90.42 L687.00,89.77 L687.20,89.10 L687.40,88.40 L687.60,87.70 L687.80,86.98 L688.00,86.26 L688.20,85.53 L688.40,84.81 L688.60,84.08 L688.80,83.36 L689.00,82.64 L689.20,81.93 L689.40,81.23 L689.60,80.54 L689.80,79.85 L690.00,79.17 L690.20,78.51 L690.40,77.85 L690.60,77.21 L690.80,76.58 L691.00,75.95 L691.20,75.34 L691.40,74.74 L691.60,74.15 L691.80,73.57 L692.00,73.00 L692.20,72.45 L692.40,71.90 L692.60,71.37 L692.80,70.84 L693.00,70.32 L693.20,69.82 L693.40,69.32 L693.60,68.84 L693.80,68.36 L694.00,67.89 L694.20,67.44 L694.40,66.99 L694.60,66.55 L694.80,66.11 L695.00,65.69 L695.20,65.28 L695.40,64.87 L695.60,64.47 L695.80,64.08 L696.00,63.69 L696.20,63.32 L696.40,62.95 L696.60,62.59 L696.80,62.23 L697.00,61.88 L697.20,61.54 L697.40,61.21 L697.60,60.88 L697.80,60.56 L698.00,60.24 L698.20,59.93 L698.40,59.63 L698.60,59.33 L698.80,59.04 L699.00,58.76 L699.20,58.48 L699.40,58.20 L699.60,57.93 L699.80,57.67 L700.00,57.41 L700.20,57.16 L700.40,56.91 L700.60,56.67 L700.80,56.43 L701.00,56.20 L701.20,55.97 L701.40,55.74 L701.60,55.52 L701.80,55.31 L702.00,55.10 L702.20,54.90 L702.40,54.69 L702.60,54.50 L702.80,54.31 L703.00,54.12 L703.20,53.94 L703.40,53.76 L703.60,53.58 L703.80,53.41 L704.00,53.24 L704.20,53.08 L704.40,52.92 L704.60,52.76 L704.80,52.61 L705.00,52.47 L705.20,52.32 L705.40,52.18 L705.60,52.05 L705.80,51.91 L706.00,51.78 L706.20,51.66 L706.40,51.54 L706.60,51.42 L706.80,51.30 L707.00,51.19 L707.20,51.08 L707.40,50.98 L707.60,50.88 L707.80,50.78 L708.00,50.69 L708.20,50.60 L708.40,50.51 L708.60,50.42 L708.80,50.34 L709.00,50.26 L709.20,50.19 L709.40,50.12 L709.60,50.05 L709.80,49.99 L710.00,49.92 L710.20,49.87 L710.40,49.81 L710.60,49.76 L710.80,49.71 L711.00,49.66 L711.20,49.62 L711.40,49.58 L711.60,49.54 L711.80,49.51 L712.00,49.48 L712.20,49.45 L712.40,49.43 L712.60,49.40 L712.80,49.39 L713.00,49.37 L713.20,49.36 L713.40,49.35 L713.60,49.34 L713.80,49.34 L714.00,49.34 L714.20,49.34 L714.40,49.34 L714.60,49.35 L714.80,49.36 L715.00,49.38 L715.20,49.40 L715.40,49.42 L715.60,49.44 L715.80,49.47 L716.00,49.50 L716.20,49.53 L716.40,49.57 L716.60,49.61 L716.80,49.65 L717.00,49.70 L717.20,49.73 L717.40,49.76 L717.60,49.80 L717.80,49.85 L718.00,49.89 L718.20,49.94 L718.40,49.99 L718.60,50.05 L718.80,50.11 L719.00,50.17 L719.20,50.23 L719.40,50.30 L719.60,50.37 L719.80,50.45 L720.00,50.53 L720.20,50.61 L720.40,50.69 L720.60,50.78 L720.80,50.87 L721.00,50.97 L721.20,51.07 L721.40,51.17 L721.60,51.27 L721.80,51.38 L722.00,51.50 L722.20,51.61 L722.40,51.73 L722.60,51.86 L722.80,51.98 L723.00,52.12 L723.20,52.25 L723.40,52.39 L723.60,52.53 L723.80,52.68 L724.00,52.83 L724.20,52.98 L724.40,53.14 L724.60,53.30 L724.80,53.47 L725.00,53.64 L725.20,53.81 L725.40,53.99 L725.60,54.18 L725.80,54.36 L726.00,54.56 L726.20,54.75 L726.40,54.95 L726.60,55.16 L726.80,55.37 L727.00,55.58 L727.20,55.80 L727.40,56.03 L727.60,56.26 L727.80,56.49 L728.00,56.73 L728.20,56.98 L728.40,57.23 L728.60,57.48 L728.80,57.74 L729.00,58.01 L729.20,58.28 L729.40,58.56 L729.60,58.84 L729.80,59.13 L730.00,59.43 L730.20,59.73 L730.40,60.04 L730.60,60.36 L730.80,60.68 L731.00,61.01 L731.20,61.34 L731.40,61.69 L731.60,62.04 L731.80,62.40 L732.00,62.76 L732.20,63.14 L732.40,63.52 L732.60,63.91 L732.80,64.31 L733.00,64.71 L733.20,65.13 L733.40,65.56 L733.60,65.99 L733.80,66.44 L734.00,66.89 L734.20,67.36 L734.40,67.84 L734.60,68.32 L734.80,68.82 L735.00,69.33 L735.20,69.86 L735.40,70.39 L735.60,70.94 L735.80,71.51 L736.00,72.09 L736.20,72.68 L736.40,73.29 L736.60,73.91 L736.80,74.55 L737.00,75.21 L737.20,75.89 L737.40,76.59 L737.60,77.30 L737.80,78.04 L738.00,78.80 L738.20,79.58 L738.40,80.39 L738.60,81.22 L738.80,82.08 L739.00,82.97 L739.20,83.88 L739.40,84.83 L739.60,85.82 L739.80,86.83 L740.00,87.89 L740.20,88.99 L740.40,90.13 L740.60,91.32 L740.80,92.55 L741.00,93.84 L741.20,95.18 L741.40,96.58 L741.60,98.05 L741.80,99.58 L742.00,101.18 L742.20,102.86 L742.40,104.62 L742.60,106.45 L742.80,108.37 L743.00,110.35 L743.20,112.41 L743.40,114.50 L743.60,116.61 L743.80,118.67 L744.00,120.61 L744.20,122.33 L744.40,123.70 L744.60,124.59 L744.80,124.90 L744.80,124.90 L745.00,124.60 L745.20,123.74 L745.40,122.40 L745.60,120.72 L745.80,118.82 L746.00,116.79 L746.20,114.71 L746.40,112.64 L746.60,110.60 L746.80,108.63 L747.00,106.72 L747.20,104.89 L747.40,103.14 L747.60,101.46 L747.80,99.85 L748.00,98.32 L748.20,96.85 L748.40,95.44 L748.60,94.10 L748.80,92.80 L749.00,91.56 L749.20,90.37 L749.40,89.22 L749.60,88.12 L749.80,87.05 L750.00,86.02 L750.20,85.03 L750.40,84.07 L750.60,83.15 L750.80,82.25 L751.00,81.38 L751.20,80.54 L751.40,79.73 L751.60,78.93 L751.80,78.16 L752.00,77.42 L752.20,76.69 L752.40,75.99 L752.60,75.30 L752.80,74.63 L753.00,73.98 L753.20,73.34 L753.40,72.72 L753.60,72.12 L753.80,71.53 L754.00,70.96 L754.20,70.40 L754.40,69.85 L754.60,69.32 L754.80,68.79 L755.00,68.28 L755.20,67.79 L755.40,67.30 L755.60,66.82 L755.80,66.36 L756.00,65.90 L756.20,65.45 L756.40,65.02 L756.60,64.59 L756.80,64.17 L757.00,63.76 L757.20,63.36 L757.40,62.97 L757.60,62.58 L757.80,62.20 L758.00,61.83 L758.20,61.47 L758.40,61.12 L758.60,60.77 L758.80,60.43 L759.00,60.09 L759.20,59.77 L759.40,59.45 L759.60,59.13 L759.80,58.82 L760.00,58.52 L760.20,58.23 L760.40,57.94 L760.60,57.65 L760.80,57.37 L761.00,57.10 L761.20,56.83 L761.40,56.57 L761.60,56.31 L761.80,56.06 L762.00,55.81 L762.20,55.57 L762.40,55.34 L762.60,55.10 L762.80,54.88 L763.00,54.65 L763.20,54.43 L763.40,54.22 L763.60,54.01 L763.80,53.81 L764.00,53.61 L764.20,53.41 L764.40,53.22 L764.60,53.03 L764.80,52.85 L765.00,52.67 L765.20,52.49 L765.40,52.32 L765.60,52.15 L765.80,51.99 L766.00,51.83 L766.20,51.68 L766.40,51.52 L766.60,51.37 L766.80,51.23 L767.00,51.09 L767.20,50.95 L767.40,50.82 L767.60,50.69 L767.80,50.56 L768.00,50.44 L768.20,50.32 L768.40,50.20 L768.60,50.09 L768.80,49.98" stroke="#f2945a" stroke-width="1.1"/>
<path d="M604.00,60.89 L604.20,61.14 L604.40,61.41 L604.60,61.67 L604.80,61.94 L605.00,62.22 L605.20,62.50 L605.40,62.79 L605.60,63.08 L605.80,63.38 L606.00,63.68 L606.20,63.99 L606.40,64.31 L606.60,64.63 L606.80,64.95 L607.00,65.28 L607.20,65.62 L607.40,65.97 L607.60,66.32 L607.80,66.68 L608.00,67.04 L608.20,67.41 L608.40,67.79 L608.60,68.18 L608.80,68.57 L609.00,68.98 L609.20,69.39 L609.40,69.80 L609.60,70.23 L609.80,70.67 L610.00,71.11 L610.20,71.56 L610.40,72.03 L610.60,72.50 L610.80,72.98 L611.00,73.47 L611.20,73.97 L611.40,74.49 L611.60,75.01 L611.80,75.55 L612.00,76.10 L612.20,76.66 L612.40,77.24 L612.60,77.83 L612.80,78.43 L613.00,79.05 L613.20,79.68 L613.40,80.33 L613.60,81.00 L613.80,81.68 L614.00,82.38 L614.20,83.10 L614.40,83.84 L614.60,84.60 L614.80,85.38 L615.00,86.19 L615.20,87.02 L615.40,87.87 L615.60,88.75 L615.80,89.66 L616.00,90.60 L616.20,91.57 L616.40,92.57 L616.60,93.61 L616.80,94.69 L617.00,95.81 L617.20,96.96 L617.40,98.17 L617.60,99.42 L617.80,100.72 L618.00,102.08 L618.20,103.50 L618.40,104.98 L618.60,106.52 L618.80,108.13 L619.00,109.82 L619.20,111.57 L619.40,113.41 L619.60,115.32 L619.80,117.29 L620.00,119.33 L620.20,121.39 L620.40,123.46 L620.60,125.48 L620.80,127.37 L621.00,129.04 L621.20,130.35 L621.40,131.20 L621.60,131.50 L621.60,131.50 L621.80,131.19 L622.00,130.30 L622.20,128.93 L622.40,127.22 L622.60,125.28 L622.80,123.23 L623.00,121.13 L623.20,119.05 L623.40,117.00 L623.60,115.03 L623.80,113.12 L624.00,111.30 L624.20,109.55 L624.40,107.88 L624.60,106.29 L624.80,104.77 L625.00,103.31 L625.20,101.92 L625.40,100.58 L625.60,99.31 L625.80,98.08 L626.00,96.90 L626.20,95.77 L626.40,94.68 L626.60,93.63 L626.80,92.62 L627.00,91.65 L627.20,90.71 L627.40,89.80 L627.60,88.92 L627.80,88.06 L628.00,87.24 L628.20,86.44 L628.40,85.66 L628.60,84.91 L628.80,84.18 L629.00,83.47 L629.20,82.78 L629.40,82.11 L629.60,81.46 L629.80,80.83 L630.00,80.21 L630.20,79.61 L630.40,79.02 L630.60,78.45 L630.80,77.89 L631.00,77.34 L631.20,76.81 L631.40,76.30 L631.60,75.79 L631.80,75.30 L632.00,74.81 L632.20,74.34 L632.40,73.88 L632.60,73.43 L632.80,72.99 L633.00,72.56 L633.20,72.14 L633.40,71.73 L633.60,71.32 L633.80,70.93 L634.00,70.54 L634.20,70.16 L634.40,69.79 L634.60,69.43 L634.80,69.08 L635.00,68.73 L635.20,68.39 L635.40,68.06 L635.60,67.73 L635.80,67.41 L636.00,67.10 L636.20,66.80 L636.40,66.50 L636.60,66.20 L636.80,65.91 L637.00,65.63 L637.20,65.36 L637.40,65.09 L637.60,64.82 L637.80,64.56 L638.00,64.31 L638.20,64.06 L638.40,63.82 L638.60,63.58 L638.80,63.35 L639.00,63.12 L639.20,62.89 L639.40,62.68 L639.60,62.46 L639.80,62.25 L640.00,62.05 L640.20,61.85 L640.40,61.65 L640.60,61.46 L640.80,61.27 L641.00,61.09 L641.20,60.91 L641.40,60.73 L641.60,60.56 L641.80,60.40 L642.00,60.23 L642.20,60.07 L642.40,59.92 L642.60,59.77 L642.80,59.62 L643.00,59.48 L643.20,59.34 L643.40,59.20 L643.60,59.07 L643.80,58.94 L644.00,58.81 L644.20,58.69 L644.40,58.57 L644.60,58.45 L644.80,58.34 L645.00,58.23 L645.20,58.13 L645.40,58.03 L645.60,57.93 L645.80,57.83 L646.00,57.74 L646.20,57.65 L646.40,57.57 L646.60,57.48 L646.80,57.40 L647.00,57.33 L647.20,57.25 L647.40,57.18 L647.60,57.12 L647.80,57.05 L648.00,56.99 L648.20,56.93 L648.40,56.88 L648.60,56.83 L648.80,56.78 L649.00,56.73 L649.20,56.69 L649.40,56.65 L649.60,56.61 L649.80,56.58 L650.00,56.55 L650.20,56.52 L650.40,56.49 L650.60,56.47 L650.80,56.45 L651.00,56.43 L651.20,56.42 L651.40,56.41 L651.60,56.40 L651.80,56.39 L652.00,56.39 L652.20,56.39 L652.40,56.39 L652.60,56.40 L652.80,56.41 L653.00,56.42 L653.20,56.40 L653.40,56.39 L653.60,56.37 L653.80,56.36 L654.00,56.36 L654.20,56.35 L654.40,56.35 L654.60,56.35 L654.80,56.36 L655.00,56.37 L655.20,56.38 L655.40,56.39 L655.60,56.40 L655.80,56.42 L656.00,56.45 L656.20,56.47 L656.40,56.50 L656.60,56.53 L656.80,56.56 L657.00,56.60 L657.20,56.64 L657.40,56.68 L657.60,56.72 L657.80,56.77 L658.00,56.82 L658.20,56.88 L658.40,56.94 L658.60,57.00 L658.80,57.06 L659.00,57.13 L659.20,57.20 L659.40,57.27 L659.60,57.34 L659.80,57.42 L660.00,57.50 L660.20,57.59 L660.40,57.68 L660.60,57.77 L660.80,57.87 L661.00,57.96 L661.20,58.07 L661.40,58.17 L661.60,58.28 L661.80,58.39 L662.00,58.51 L662.20,58.63 L662.40,58.75 L662.60,58.87 L662.80,59.00 L663.00,59.14 L663.20,59.27 L663.40,59.41 L663.60,59.56 L663.80,59.71 L664.00,59.86 L664.20,60.01 L664.40,60.17 L664.60,60.34 L664.80,60.50 L665.00,60.67 L665.20,60.85 L665.40,61.03 L665.60,61.21 L665.80,61.40 L666.00,61.60 L666.20,61.79 L666.40,61.99 L666.60,62.20 L666.80,62.41 L667.00,62.63 L667.20,62.85 L667.40,63.07 L667.60,63.30 L667.80,63.54 L668.00,63.78 L668.20,64.02 L668.40,64.27 L668.60,64.53 L668.80,64.79 L669.00,65.06 L669.20,65.33 L669.40,65.61 L669.60,65.89 L669.80,66.18 L670.00,66.48 L670.20,66.78 L670.40,67.09 L670.60,67.41 L670.80,67.73 L671.00,68.06 L671.20,68.40 L671.40,68.75 L671.60,69.10 L671.80,69.46 L672.00,69.82 L672.20,70.20 L672.40,70.58 L672.60,70.98 L672.80,71.38 L673.00,71.79 L673.20,72.21 L673.40,72.64 L673.60,73.08 L673.80,73.53 L674.00,73.98 L674.20,74.46 L674.40,74.94 L674.60,75.43 L674.80,75.94 L675.00,76.45 L675.20,76.99 L675.40,77.53 L675.60,78.09 L675.80,78.66 L676.00,79.25 L676.20,79.85 L676.40,80.47 L676.60,81.11 L676.80,81.76 L677.00,82.44 L677.20,83.13 L677.40,83.84 L677.60,84.58 L677.80,85.34 L678.00,86.12 L678.20,86.93 L678.40,87.76 L678.60,88.62 L678.80,89.51 L679.00,90.44 L679.20,91.39 L679.40,92.38 L679.60,93.41 L679.80,94.48 L680.00,95.60 L680.20,96.76 L680.40,97.97 L680.60,99.23 L680.80,100.55 L681.00,101.93 L681.20,103.38 L681.40,104.91 L681.60,106.51 L681.80,108.20 L682.00,109.98 L682.20,111.86 L682.40,113.85 L682.60,115.95 L682.80,118.17 L683.00,120.49 L683.20,122.93 L683.40,125.44 L683.60,127.99 L683.80,130.48 L684.00,132.77 L684.20,134.67 L684.40,135.95 L684.60,136.40 L684.60,136.40 L684.80,136.00 L685.00,134.85 L685.20,133.12 L685.40,131.00 L685.60,128.67 L685.80,126.25 L686.00,123.83 L686.20,121.46 L686.40,119.18 L686.60,117.00 L686.80,114.91 L687.00,112.93 L687.20,111.05 L687.40,109.26 L687.60,107.56 L687.80,105.94 L688.00,104.39 L688.20,102.92 L688.40,101.51 L688.60,100.16 L688.80,98.87 L689.00,97.63 L689.20,96.43 L689.40,95.29 L689.60,94.18 L689.80,93.12 L690.00,92.09 L690.20,91.10 L690.40,90.14 L690.60,89.21 L690.80,88.32 L691.00,87.44 L691.20,86.60 L691.40,85.78 L691.60,84.98 L691.80,84.21 L692.00,83.45 L692.20,82.72 L692.40,82.01 L692.60,81.31 L692.80,80.64 L693.00,79.98 L693.20,79.33 L693.40,78.70 L693.60,78.09 L693.80,77.49 L694.00,76.90 L694.20,76.33 L694.40,75.77 L694.60,75.22 L694.80,74.69 L695.00,74.17 L695.20,73.65 L695.40,73.15 L695.60,72.66 L695.80,72.18 L696.00,71.71 L696.20,71.24 L696.40,70.79 L696.60,70.34 L696.80,69.91 L697.00,69.48 L697.20,69.06 L697.40,68.65 L697.60,68.25 L697.80,67.85 L698.00,67.46 L698.20,67.08 L698.40,66.71 L698.60,66.34 L698.80,65.98 L699.00,65.62 L699.20,65.27 L699.40,64.93 L699.60,64.60 L699.80,64.27 L700.00,63.94 L700.20,63.62 L700.40,63.31 L700.60,63.00 L700.80,62.70 L701.00,62.40 L701.20,62.11 L701.40,61.82 L701.60,61.54 L701.80,61.27 L702.00,60.99 L702.20,60.73 L702.40,60.46 L702.60,60.21 L702.80,59.95 L703.00,59.70 L703.20,59.46 L703.40,59.22 L703.60,58.98 L703.80,58.75 L704.00,58.52 L704.20,58.29 L704.40,58.07 L704.60,57.86 L704.80,57.64 L705.00,57.43 L705.20,57.23 L705.40,57.03 L705.60,56.83 L705.80,56.64 L706.00,56.45 L706.20,56.26 L706.40,56.07 L706.60,55.89 L706.80,55.72 L707.00,55.54 L707.20,55.37 L707.40,55.21 L707.60,55.04 L707.80,54.88 L708.00,54.73 L708.20,54.57 L708.40,54.42 L708.60,54.27 L708.80,54.13 L709.00,53.99 L709.20,53.85 L709.40,53.71 L709.60,53.58 L709.80,53.45 L710.00,53.32 L710.20,53.20 L710.40,53.08 L710.60,52.96 L710.80,52.85 L711.00,52.73 L711.20,52.62 L711.40,52.52 L711.60,52.41 L711.80,52.31 L712.00,52.21 L712.20,52.12 L712.40,52.03 L712.60,51.93 L712.80,51.85 L713.00,51.76 L713.20,51.68 L713.40,51.60 L713.60,51.52 L713.80,51.45 L714.00,51.38 L714.20,51.31 L714.40,51.24 L714.60,51.18 L714.80,51.12 L715.00,51.06 L715.20,51.00 L715.40,50.95 L715.60,50.90 L715.80,50.85 L716.00,50.80 L716.20,50.76 L716.40,50.72 L716.60,50.68 L716.80,50.64 L717.00,50.61 L717.20,50.58 L717.40,50.55 L717.60,50.52 L717.80,50.50 L718.00,50.48 L718.20,50.49 L718.40,50.50 L718.60,50.52 L718.80,50.53 L719.00,50.55 L719.20,50.57 L719.40,50.60 L719.60,50.62 L719.80,50.65 L720.00,50.68 L720.20,50.72 L720.40,50.76 L720.60,50.80 L720.80,50.84 L721.00,50.88 L721.20,50.93 L721.40,50.98 L721.60,51.03 L721.80,51.09 L722.00,51.14 L722.20,51.20 L722.40,51.27 L722.60,51.33 L722.80,51.40 L723.00,51.47 L723.20,51.54 L723.40,51.62 L723.60,51.70 L723.80,51.78 L724.00,51.86 L724.20,51.95 L724.40,52.04 L724.60,52.13 L724.80,52.22 L725.00,52.32 L725.20,52.42 L725.40,52.53 L725.60,52.63 L725.80,52.74 L726.00,52.85 L726.20,52.97 L726.40,53.08 L726.60,53.20 L726.80,53.33 L727.00,53.45 L727.20,53.58 L727.40,53.72 L727.60,53.85 L727.80,53.99 L728.00,54.13 L728.20,54.28 L728.40,54.42 L728.60,54.57 L728.80,54.73 L729.00,54.89 L729.20,55.05 L729.40,55.21 L729.60,55.38 L729.80,55.55 L730.00,55.72 L730.20,55.90 L730.40,56.08 L730.60,56.27 L730.80,56.46 L731.00,56.65 L731.20,56.85 L731.40,57.04 L731.60,57.25 L731.80,57.46 L732.00,57.67 L732.20,57.88 L732.40,58.10 L732.60,58.32 L732.80,58.55 L733.00,58.78 L733.20,59.02 L733.40,59.26 L733.60,59.50 L733.80,59.75 L734.00,60.01 L734.20,60.26 L734.40,60.53 L734.60,60.79 L734.80,61.07 L735.00,61.34 L735.20,61.63 L735.40,61.91 L735.60,62.21 L735.80,62.50 L736.00,62.81 L736.20,63.12 L736.40,63.43 L736.60,63.75 L736.80,64.08 L737.00,64.41 L737.20,64.75 L737.40,65.10 L737.60,65.45 L737.80,65.80 L738.00,66.17 L738.20,66.54 L738.40,66.92 L738.60,67.31 L738.80,67.70 L739.00,68.10 L739.20,68.51 L739.40,68.93 L739.60,69.35 L739.80,69.79 L740.00,70.23 L740.20,70.69 L740.40,71.15 L740.60,71.62 L740.80,72.10 L741.00,72.59 L741.20,73.09 L741.40,73.61 L741.60,74.13 L741.80,74.67 L742.00,75.22 L742.20,75.78 L742.40,76.35 L742.60,76.94 L742.80,77.55 L743.00,78.16 L743.20,78.80 L743.40,79.44 L743.60,80.11 L743.80,80.79 L744.00,81.49 L744.20,82.22 L744.40,82.96 L744.60,83.72 L744.80,84.50 L745.00,85.31 L745.20,86.14 L745.40,87.00 L745.60,87.88 L745.80,88.79 L746.00,89.74 L746.20,90.71 L746.40,91.72 L746.60,92.77 L746.80,93.85 L747.00,94.98 L747.20,96.15 L747.40,97.36 L747.60,98.63 L747.80,99.95 L748.00,101.33 L748.20,102.77 L748.40,104.28 L748.60,105.85 L748.80,107.51 L749.00,109.24 L749.20,111.06 L749.40,112.96 L749.60,114.95 L749.80,117.03 L750.00,119.19 L750.20,121.40 L750.40,123.64 L750.60,125.86 L750.80,127.97 L751.00,129.85 L751.20,131.36 L751.40,132.35 L751.60,132.70 L751.60,132.70 L751.80,132.33 L752.00,131.26 L752.20,129.65 L752.40,127.66 L752.60,125.45 L752.80,123.15 L753.00,120.84 L753.20,118.58 L753.40,116.38 L753.60,114.27 L753.80,112.26 L754.00,110.34 L754.20,108.52 L754.40,106.78 L754.60,105.13 L754.80,103.55 L755.00,102.05 L755.20,100.62 L755.40,99.25 L755.60,97.94 L755.80,96.69 L756.00,95.49 L756.20,94.33 L756.40,93.22 L756.60,92.15 L756.80,91.12 L757.00,90.13 L757.20,89.17 L757.40,88.25 L757.60,87.35 L757.80,86.48 L758.00,85.65 L758.20,84.83 L758.40,84.05 L758.60,83.28 L758.80,82.54 L759.00,81.82 L759.20,81.12 L759.40,80.44 L759.60,79.77 L759.80,79.13 L760.00,78.50 L760.20,77.89 L760.40,77.29 L760.60,76.71 L760.80,76.14 L761.00,75.59 L761.20,75.05 L761.40,74.52 L761.60,74.01 L761.80,73.50 L762.00,73.01 L762.20,72.53 L762.40,72.06 L762.60,71.60 L762.80,71.15 L763.00,70.71 L763.20,70.28 L763.40,69.86 L763.60,69.45 L763.80,69.04 L764.00,68.65 L764.20,68.26 L764.40,67.88 L764.60,67.51 L764.80,67.15 L765.00,66.79 L765.20,66.44 L765.40,66.10 L765.60,65.77 L765.80,65.44 L766.00,65.12 L766.20,64.80 L766.40,64.49 L766.60,64.19 L766.80,63.89 L767.00,63.60 L767.20,63.32 L767.40,63.04 L767.60,62.77 L767.80,62.50 L768.00,62.23 L768.20,61.98 L768.40,61.72 L768.60,61.48 L768.80,61.23" stroke="#1fbcc4" stroke-width="1.25"/>
</g>
<path d="M621.6,131.5 V150" stroke="#7a2020" stroke-width="0.7" stroke-dasharray="1,1"/>
<path d="M623.3,107.6 V150" stroke="#7a2020" stroke-width="0.7" stroke-dasharray="1,1"/>
<path d="M684.6,95 V150" stroke="#7a2020" stroke-width="0.7" stroke-dasharray="1,1"/>
<path d="M684.6,136.6 V150" stroke="#7a2020" stroke-width="0.7" stroke-dasharray="1,1"/>
<path d="M744.8,124.9 V150" stroke="#7a2020" stroke-width="0.7" stroke-dasharray="1,1"/>
<path d="M751.6,132.7 V150" stroke="#7a2020" stroke-width="0.7" stroke-dasharray="1,1"/>
<circle cx="623.3" cy="107.6" r="1.9" fill="#ee1c1c"/>
<circle cx="684.6" cy="94.5" r="1.9" fill="#ee1c1c"/>
<circle cx="744.8" cy="124.9" r="1.9" fill="#ee1c1c"/>
<circle cx="621.6" cy="131.5" r="1.9" fill="#f07a60"/>
<circle cx="684.6" cy="136.6" r="1.9" fill="#f07a60"/>
<circle cx="751.6" cy="132.7" r="1.9" fill="#f07a60"/>
<circle cx="648" cy="98.3" r="1.9" fill="#7a30b8"/>
<circle cx="705.2" cy="95" r="1.9" fill="#7a30b8"/>
<rect x="652" y="99.5" width="2.2" height="1.6" fill="#7a30b8"/>
<path d="M689.5,100.5 L703,100.5" stroke="#c8a0e8" stroke-width="0.9" marker-end="url(#aPur)"/>
<text x="641.5" y="101" font-size="7.5" fill="#222" text-anchor="middle" >A</text>
<text x="691.2" y="97" font-size="7.5" fill="#222" text-anchor="middle" >C</text>
<text x="712.2" y="100.3" font-size="7.5" fill="#222" text-anchor="middle" >B</text>
<text x="692.2" y="139" font-size="7.5" fill="#222" text-anchor="middle" >D</text>
<text x="675.5" y="108.9" font-size="7.5" fill="#8040c0" text-anchor="middle" >FSR</text>
<text x="711.2" y="124.5" font-size="7.5" fill="#e02020" text-anchor="middle" textLength="31.5" lengthAdjust="spacingAndGlyphs" >Red shift</text>
<path d="M697.5,128.4 L726,128.4" stroke="#e02020" stroke-width="0.9" marker-end="url(#aRed)"/>
<path d="M605.8,18.8 H766.9 V150.4" stroke="#555" stroke-width="0.9" fill="none"/>
<path d="M605.8,151 H766.9" stroke="#a8a8b0" stroke-width="0.6" fill="none"/>
<path d="M605.8,18.8 V150.4" stroke="#111" stroke-width="1.2" fill="none"/>
<path d="M602.5,32.0 H605.8" stroke="#111" stroke-width="1"/>
<path d="M604,48.5 H605.8" stroke="#111" stroke-width="0.8"/>
<text x="600.5" y="34.7" font-size="7.8" fill="#2a2a2a" text-anchor="end" >0</text>
<path d="M602.5,65.0 H605.8" stroke="#111" stroke-width="1"/>
<path d="M604,81.5 H605.8" stroke="#111" stroke-width="0.8"/>
<text x="600.5" y="67.7" font-size="7.8" fill="#2a2a2a" text-anchor="end" >-10</text>
<path d="M602.5,98.0 H605.8" stroke="#111" stroke-width="1"/>
<path d="M604,114.5 H605.8" stroke="#111" stroke-width="0.8"/>
<text x="600.5" y="100.7" font-size="7.8" fill="#2a2a2a" text-anchor="end" >-20</text>
<path d="M602.5,131.0 H605.8" stroke="#111" stroke-width="1"/>
<path d="M604,147.5 H605.8" stroke="#111" stroke-width="0.8"/>
<text x="600.5" y="133.7" font-size="7.8" fill="#2a2a2a" text-anchor="end" >-30</text>
<path d="M616.0,150.4 V153.5" stroke="#111" stroke-width="0.9"/>
<path d="M643.0,150.4 V152.5" stroke="#111" stroke-width="0.7"/>
<text x="616.0" y="161.6" font-size="8.3" fill="#2a2a2a" text-anchor="middle" textLength="17.6" lengthAdjust="spacingAndGlyphs" >1450</text>
<path d="M670.0,150.4 V153.5" stroke="#111" stroke-width="0.9"/>
<path d="M697.0,150.4 V152.5" stroke="#111" stroke-width="0.7"/>
<text x="670.0" y="161.6" font-size="8.3" fill="#2a2a2a" text-anchor="middle" textLength="17.6" lengthAdjust="spacingAndGlyphs" >1500</text>
<path d="M724.0,150.4 V153.5" stroke="#111" stroke-width="0.9"/>
<path d="M751.0,150.4 V152.5" stroke="#111" stroke-width="0.7"/>
<text x="724.0" y="161.6" font-size="8.3" fill="#2a2a2a" text-anchor="middle" textLength="17.6" lengthAdjust="spacingAndGlyphs" >1550</text>
<text x="686.3" y="173" font-size="11" fill="#111" text-anchor="middle" textLength="81" lengthAdjust="spacingAndGlyphs" >Wavelength(nm)</text>
<text x="0" y="0" font-size="11" fill="#111" text-anchor="middle" transform="translate(586.5,85) rotate(-90)" textLength="89" lengthAdjust="spacingAndGlyphs">Transmission(dB)</text>
<path d="M618,24.9 H636" stroke="#4aa8dc" stroke-width="1" stroke-dasharray="5,2,1.2,2"/>
<path d="M618,33.7 H636" stroke="#1ab8c0" stroke-width="1.5"/>
<path d="M666.6,24.9 H681" stroke="#f6b8a8" stroke-width="1" stroke-dasharray="3.5,4"/>
<path d="M713.8,24.9 H731.3" stroke="#f2945a" stroke-width="1.2"/>
<text x="638.5" y="28" font-size="8.5" fill="#222" text-anchor="start" textLength="24" lengthAdjust="spacingAndGlyphs" >1.3700</text>
<text x="638.5" y="36.8" font-size="8.5" fill="#222" text-anchor="start" textLength="24" lengthAdjust="spacingAndGlyphs" >1.3901</text>
<text x="686.8" y="28" font-size="8.5" fill="#222" text-anchor="start" textLength="24.5" lengthAdjust="spacingAndGlyphs" >1.3759</text>
<text x="733.5" y="28" font-size="8.5" fill="#222" text-anchor="start" textLength="24" lengthAdjust="spacingAndGlyphs" >1.3778</text>
<text x="51" y="211.5" font-size="12" fill="#111" text-anchor="middle" textLength="36.5" lengthAdjust="spacingAndGlyphs" >All raw</text>
<text x="51" y="226.2" font-size="12" fill="#111" text-anchor="middle" textLength="50" lengthAdjust="spacingAndGlyphs" >specturm</text>
<rect x="9.4" y="235.6" width="84.5" height="61.7" rx="7" fill="none" stroke="#747474" stroke-width="1.5"/>
<path d="M10.20,266.80 L11.60,278.40 L12.22,271.83 L12.85,266.18 L13.47,261.41 L14.10,257.44 L14.72,254.22 L15.35,251.68 L15.98,249.74 L16.60,248.35 L17.23,247.42 L17.85,246.89 L18.48,246.65 L19.10,246.60 L19.73,246.65 L20.35,246.88 L20.98,247.40 L21.60,248.27 L22.23,249.57 L22.85,251.34 L23.48,253.63 L24.10,256.49 L24.73,259.95 L25.35,264.06 L25.98,268.83 L26.60,274.30 L27.22,269.54 L27.84,265.29 L28.46,261.55 L29.08,258.33 L29.70,255.61 L30.33,253.39 L30.95,251.64 L31.57,250.33 L32.19,249.43 L32.81,248.90 L33.43,248.65 L34.05,248.60 L34.67,248.65 L35.29,248.92 L35.91,249.53 L36.53,250.59 L37.15,252.21 L37.77,254.48 L38.40,257.52 L39.02,261.42 L39.64,266.27 L40.26,272.19 L40.88,279.26 L41.50,287.60 L42.15,279.45 L42.81,272.48 L43.46,266.61 L44.12,261.75 L44.77,257.81 L45.42,254.72 L46.08,252.38 L46.73,250.70 L47.39,249.58 L48.04,248.94 L48.70,248.66 L49.35,248.60 L50.00,248.65 L50.66,248.93 L51.31,249.53 L51.97,250.55 L52.62,252.05 L53.28,254.09 L53.93,256.72 L54.58,259.98 L55.24,263.91 L55.89,268.54 L56.55,273.90 L57.20,280.00 L57.83,273.90 L58.45,268.54 L59.08,263.91 L59.70,259.98 L60.33,256.72 L60.95,254.09 L61.58,252.05 L62.20,250.55 L62.83,249.53 L63.45,248.93 L64.08,248.65 L64.70,248.60 L65.33,248.66 L65.95,248.94 L66.58,249.58 L67.20,250.70 L67.83,252.38 L68.45,254.72 L69.08,257.81 L69.70,261.75 L70.33,266.61 L70.95,272.48 L71.58,279.45 L72.20,287.60 L72.85,279.01 L73.51,271.64 L74.16,265.39 L74.82,260.21 L75.47,255.99 L76.12,252.66 L76.78,250.12 L77.43,248.30 L78.09,247.08 L78.74,246.37 L79.40,246.06 L80.05,246.00 L80.70,246.06 L81.36,246.37 L82.01,247.05 L82.67,248.20 L83.32,249.91 L83.98,252.24 L84.63,255.27 L85.28,259.04 L85.94,263.62 L86.59,269.04 L87.25,275.36 L87.90,282.60 L92.00,253.60" fill="none" stroke="#111" stroke-width="1.5" stroke-dasharray="3.4,1.9"/>
<text x="97.9" y="260.3" font-size="12" fill="#111" text-anchor="start" textLength="17.4" lengthAdjust="spacingAndGlyphs" >7:3</text>
<path d="M94,266 H120.3" stroke="#747474" stroke-width="1.5"/>
<path d="M120.3,266 L141.3,302.5" stroke="#747474" stroke-width="1.5" marker-end="url(#ag)"/>
<path d="M120.3,266 L141,231.6" stroke="#1ea8e8" stroke-width="1.6" marker-end="url(#ab)"/>
<rect x="112" y="185.4" width="69" height="45.4" fill="none" stroke="#747474" stroke-width="1.7"/>
<text x="146.5" y="205" font-size="12" fill="#111" text-anchor="middle" >Test</text>
<text x="146.5" y="220.5" font-size="12" fill="#111" text-anchor="middle" textLength="45.2" lengthAdjust="spacingAndGlyphs" >datasets</text>
<path d="M181,206.7 H382.9 V233.5" fill="none" stroke="#1ea8e8" stroke-width="1.6" marker-end="url(#ab)"/>
<text x="215.8" y="202.2" font-size="12" fill="#111" text-anchor="start" textLength="105.7" lengthAdjust="spacingAndGlyphs" >Untrained specturm</text>
<rect x="343.6" y="235.3" width="80.3" height="39.6" fill="none" stroke="#747474" stroke-width="1.7"/>
<text x="386.3" y="254.4" font-size="12" fill="#111" text-anchor="middle" textLength="38.6" lengthAdjust="spacingAndGlyphs" >Trained</text>
<text x="386.3" y="269.4" font-size="12" fill="#111" text-anchor="middle" textLength="27.3" lengthAdjust="spacingAndGlyphs" >LSTM</text>
<path d="M424,255.8 H446.5" stroke="#1ea8e8" stroke-width="1.6" marker-end="url(#ab)"/>
<rect x="448.5" y="230.5" width="88" height="49.2" rx="7" fill="none" stroke="#747474" stroke-width="1.5"/>
<text x="492.3" y="255.8" font-size="12" fill="#111" text-anchor="middle" textLength="66.6" lengthAdjust="spacingAndGlyphs" >Predicted&#160;&#160;RI</text>
<text x="493" y="270.5" font-size="12" fill="#111" text-anchor="middle" textLength="34.5" lengthAdjust="spacingAndGlyphs" >values</text>
<rect x="103" y="291.4" width="310.7" height="85.5" fill="none" stroke="#3a5cac" stroke-width="2" stroke-dasharray="8,5"/>
<rect x="112.5" y="311.5" width="68.2" height="44.9" fill="none" stroke="#747474" stroke-width="1.7"/>
<text x="147.4" y="333" font-size="12" fill="#111" text-anchor="middle" textLength="42.9" lengthAdjust="spacingAndGlyphs" >Training</text>
<text x="147.4" y="348" font-size="12" fill="#111" text-anchor="middle" textLength="45.2" lengthAdjust="spacingAndGlyphs" >datasets</text>
<path d="M180.7,332 H203.5" stroke="#c4101a" stroke-width="1.5" marker-end="url(#ar)"/>
<rect x="205.2" y="316.8" width="65.4" height="29.4" fill="none" stroke="#b0606c" stroke-width="1.5"/>
<text x="237.9" y="336.4" font-size="13" fill="#111" text-anchor="middle" textLength="48.2" lengthAdjust="spacingAndGlyphs" >Training</text>
<path d="M270.6,332 H289" stroke="#c4101a" stroke-width="1.5" marker-end="url(#ar)"/>
<polygon points="290.2,331.1 330.7,301.7 371.2,331.1 330.7,360.5" fill="none" stroke="#a4a4a4" stroke-width="1.5"/>
<text x="330.7" y="335.2" font-size="12" fill="#111" text-anchor="middle" textLength="64.6" lengthAdjust="spacingAndGlyphs" >Meet goals?</text>
<path d="M371.2,331.1 H383.6 V276.5" fill="none" stroke="#c4101a" stroke-width="1.5" marker-end="url(#ar)"/>
<path d="M330.7,360.5 V373.2 H249.4 V347.5" fill="none" stroke="#c4101a" stroke-width="1.5" marker-end="url(#ar)"/>
<text x="387.5" y="312.5" font-size="12.5" fill="#111" text-anchor="start" textLength="17.6" lengthAdjust="spacingAndGlyphs" >Yes</text>
<text x="228" y="369" font-size="12" fill="#111" text-anchor="start" textLength="15.7" lengthAdjust="spacingAndGlyphs" >No</text>
<text x="266.5" y="369" font-size="12" fill="#111" text-anchor="start" textLength="46.2" lengthAdjust="spacingAndGlyphs" >Readjust</text>
<text x="477" y="343.9" font-size="12" fill="#111" text-anchor="middle" textLength="101.5" lengthAdjust="spacingAndGlyphs" >Training process&#160;&#160;of</text>
<text x="476.1" y="359.5" font-size="12" fill="#111" text-anchor="middle" textLength="66" lengthAdjust="spacingAndGlyphs" >LSTM model</text>
<text x="684.4" y="199.6" font-size="10.5" fill="#111" text-anchor="middle" textLength="101" lengthAdjust="spacingAndGlyphs" >Interference spectrum</text>
<rect x="563.9" y="202" width="242.5" height="11.4" fill="url(#spec)"/>
<rect x="563.9" y="202" width="14.5" height="11.4" fill="#5ec2ea"/>
<path d="M578.4,202 V213.4" stroke="#c4ccd4" stroke-width="0.8" opacity="0.9"/>
<path d="M594,202 V213.4" stroke="#c4ccd4" stroke-width="0.8" opacity="0.9"/>
<path d="M608.75,202 V213.4" stroke="#c4ccd4" stroke-width="0.8" opacity="0.9"/>
<path d="M624,202 V213.4" stroke="#c4ccd4" stroke-width="0.8" opacity="0.9"/>
<path d="M639.7,202 V213.4" stroke="#c4ccd4" stroke-width="0.8" opacity="0.9"/>
<path d="M653.75,202 V213.4" stroke="#c4ccd4" stroke-width="0.8" opacity="0.9"/>
<path d="M668.1,202 V213.4" stroke="#c4ccd4" stroke-width="0.8" opacity="0.9"/>
<path d="M683.4,202 V213.4" stroke="#c4ccd4" stroke-width="0.8" opacity="0.9"/>
<path d="M699.4,202 V213.4" stroke="#c4ccd4" stroke-width="0.8" opacity="0.9"/>
<path d="M714.4,202 V213.4" stroke="#c4ccd4" stroke-width="0.8" opacity="0.9"/>
<path d="M730,202 V213.4" stroke="#c4ccd4" stroke-width="0.8" opacity="0.9"/>
<path d="M745.2,202 V213.4" stroke="#c4ccd4" stroke-width="0.8" opacity="0.9"/>
<path d="M760.2,202 V213.4" stroke="#c4ccd4" stroke-width="0.8" opacity="0.9"/>
<path d="M775.2,202 V213.4" stroke="#c4ccd4" stroke-width="0.8" opacity="0.9"/>
<path d="M790.4,202 V213.4" stroke="#c4ccd4" stroke-width="0.8" opacity="0.9"/>
<text x="582.7" y="210.6" font-size="8.5" fill="#222" text-anchor="middle" >1</text>
<text x="609.8" y="210.8" font-size="8.5" fill="#222" text-anchor="middle" >2</text>
<circle cx="620.5" cy="209.4" r="0.55" fill="#4a5a64"/>
<circle cx="769.5" cy="209.4" r="0.55" fill="#6a6050"/>
<circle cx="623.5" cy="209.4" r="0.55" fill="#4a5a64"/>
<circle cx="772.3" cy="209.4" r="0.55" fill="#6a6050"/>
<circle cx="626.5" cy="209.4" r="0.55" fill="#4a5a64"/>
<circle cx="775.1" cy="209.4" r="0.55" fill="#6a6050"/>
<circle cx="629.5" cy="209.4" r="0.55" fill="#4a5a64"/>
<circle cx="777.9" cy="209.4" r="0.55" fill="#6a6050"/>
<circle cx="632.5" cy="209.4" r="0.55" fill="#4a5a64"/>
<circle cx="780.7" cy="209.4" r="0.55" fill="#6a6050"/>
<text x="647.5" y="209.5" font-size="8" fill="#222" text-anchor="middle">x<tspan font-size="5.0" dy="2.0">t-1</tspan></text>
<text x="689.8" y="209.5" font-size="8" fill="#222" text-anchor="middle">x<tspan font-size="5.0" dy="2.0">t</tspan></text>
<text x="736.5" y="209.5" font-size="8" fill="#222" text-anchor="middle">x<tspan font-size="5.0" dy="2.0">t+1</tspan></text>
<path d="M611.6,216.5 L633.6,216.5 L625.6,229 L625.6,231.5 L629.6,231.5 L622.6,238 L615.6,231.5 L619.6,231.5 L619.6,229 Z" fill="url(#funnel)" opacity="0.7"/>
<path d="M671.6,216.5 L693.6,216.5 L685.6,229 L685.6,231.5 L689.6,231.5 L682.6,238 L675.6,231.5 L679.6,231.5 L679.6,229 Z" fill="url(#funnel)" opacity="0.7"/>
<path d="M725.8,216.5 L747.8,216.5 L739.8,229 L739.8,231.5 L743.8,231.5 L736.8,238 L729.8,231.5 L733.8,231.5 L733.8,229 Z" fill="url(#funnel)" opacity="0.7"/>
<path d="M551,368 V248 Q551,226.5 573,226.5 H795 Q817,226.5 817,248 V368 Q817,389.5 795,389.5 H573 Q551,389.5 551,368" fill="none" stroke="#4a66b2" stroke-width="1.15" stroke-dasharray="4,3"/>
<rect x="555.5" y="251.3" width="65.1" height="11.7" fill="url(#xt1)"/>
<rect x="648" y="256.2" width="68.7" height="11.8" fill="url(#xt)"/>
<rect x="752.8" y="251.3" width="61.1" height="11.3" fill="url(#xt2)"/>
<path d="M573,251.3 V263" stroke="#a8d0dc" stroke-width="0.7"/>
<path d="M591,251.3 V263" stroke="#a8d0dc" stroke-width="0.7"/>
<path d="M606,251.3 V263" stroke="#a8d0dc" stroke-width="0.7"/>
<path d="M665,256.2 V268" stroke="#b0c8c4" stroke-width="0.7"/>
<path d="M700,256.2 V268" stroke="#b0c8c4" stroke-width="0.7"/>
<path d="M770,251.3 V262.6" stroke="#ccc4a8" stroke-width="0.7"/>
<path d="M797,251.3 V262.6" stroke="#ccc4a8" stroke-width="0.7"/>
<text x="589" y="260.5" font-size="8.5" fill="#222" text-anchor="middle">x<tspan font-size="5.3" dy="2.1">t-1</tspan></text>
<text x="682" y="265.5" font-size="8.5" fill="#222" text-anchor="middle">x<tspan font-size="5.3" dy="2.1">t</tspan></text>
<text x="786" y="260.5" font-size="8.5" fill="#222" text-anchor="middle">x<tspan font-size="5.3" dy="2.1">t+1</tspan></text>
<rect x="553.1" y="286.5" width="54" height="82.7" rx="9" fill="#f7f7f9" stroke="#3c3c3c" stroke-width="0.9"/>
<rect x="762.5" y="284.7" width="53" height="82.9" rx="9" fill="#f7f7f9" stroke="#3c3c3c" stroke-width="0.9"/>
<rect x="615" y="284.7" width="140" height="82.8" rx="12" fill="#f9f9fb" stroke="#3c3c3c" stroke-width="0.9"/>
<path d="M556,298 H604 M556,353.7 H604" stroke="#d4d4ea" stroke-width="2"/><path d="M565,298 V306" stroke="#d4d4ea" stroke-width="1.6" marker-end="url(#apf)"/><path d="M565,315 V347" stroke="#d4d4ea" stroke-width="1.6" marker-end="url(#apf)"/><path d="M574,298 V306" stroke="#d4d4ea" stroke-width="1.6" marker-end="url(#apf)"/><path d="M574,315 V347" stroke="#d4d4ea" stroke-width="1.6" marker-end="url(#apf)"/><path d="M583,298 V306" stroke="#d4d4ea" stroke-width="1.6" marker-end="url(#apf)"/><path d="M583,315 V347" stroke="#d4d4ea" stroke-width="1.6" marker-end="url(#apf)"/><path d="M600,298 H605" stroke="#d4d4ea" stroke-width="2" marker-end="url(#apf)"/><path d="M597.6,298 V350" stroke="#d4d4ea" stroke-width="1.6"/><rect x="564" y="308.3" width="7" height="6.5" fill="#f8e2a6"/><rect x="573" y="308.3" width="6" height="6.5" fill="#f8e2a6"/><rect x="581" y="308.3" width="8" height="6.5" fill="#f8e2a6"/><rect x="590" y="308.3" width="5" height="6.5" fill="#f8e2a6"/><rect x="596" y="336" width="7" height="8.5" fill="#f8e2a6"/><circle cx="597.6" cy="324.7" r="3.8" fill="#d4ecf2"/><circle cx="566.6" cy="352.7" r="3.8" fill="#d4ecf2"/><circle cx="582.7" cy="352.7" r="3.8" fill="#d4ecf2"/>
<path d="M765.4,298 H813.4 M765.4,353.7 H813.4" stroke="#d4d4ea" stroke-width="2"/><path d="M774.4,298 V306" stroke="#d4d4ea" stroke-width="1.6" marker-end="url(#apf)"/><path d="M774.4,315 V347" stroke="#d4d4ea" stroke-width="1.6" marker-end="url(#apf)"/><path d="M783.4,298 V306" stroke="#d4d4ea" stroke-width="1.6" marker-end="url(#apf)"/><path d="M783.4,315 V347" stroke="#d4d4ea" stroke-width="1.6" marker-end="url(#apf)"/><path d="M792.4,298 V306" stroke="#d4d4ea" stroke-width="1.6" marker-end="url(#apf)"/><path d="M792.4,315 V347" stroke="#d4d4ea" stroke-width="1.6" marker-end="url(#apf)"/><path d="M809.4,298 H814.4" stroke="#d4d4ea" stroke-width="2" marker-end="url(#apf)"/><path d="M807.0,298 V350" stroke="#d4d4ea" stroke-width="1.6"/><rect x="773.4" y="308.3" width="7" height="6.5" fill="#f8e2a6"/><rect x="782.4" y="308.3" width="6" height="6.5" fill="#f8e2a6"/><rect x="790.4" y="308.3" width="8" height="6.5" fill="#f8e2a6"/><rect x="799.4" y="308.3" width="5" height="6.5" fill="#f8e2a6"/><rect x="805.4" y="336" width="7" height="8.5" fill="#f8e2a6"/><circle cx="807.0" cy="324.7" r="3.8" fill="#d4ecf2"/><circle cx="776.0" cy="352.7" r="3.8" fill="#d4ecf2"/><circle cx="792.1" cy="352.7" r="3.8" fill="#d4ecf2"/>
<text x="581" y="326.2" font-size="9.3" fill="#333" text-anchor="middle" >LSTM</text>
<text x="581" y="336.6" font-size="9.3" fill="#333" text-anchor="middle" >Cell</text>
<text x="789" y="325" font-size="9.3" fill="#333" text-anchor="middle" >LSTM</text>
<text x="789" y="335.2" font-size="9.3" fill="#333" text-anchor="middle" >Cell</text>
<path d="M564.3,280 V290" stroke="#9494cc" stroke-width="2"/>
<path d="M772.9,278.5 V290" stroke="#d4d4ea" stroke-width="2"/>
<path d="M606.5,298.3 H713 V306" fill="none" stroke="#9494cc" stroke-width="2.4"/>
<path d="M606.5,353.5 H757" fill="none" stroke="#9494cc" stroke-width="2.4" marker-end="url(#ap)"/>
<path d="M634.2,280 V298.3" stroke="#9494cc" stroke-width="2.4"/>
<path d="M637,298.3 L643,305" stroke="#9494cc" stroke-width="2" marker-end="url(#ap)"/>
<path d="M664,298.3 L670,305" stroke="#9494cc" stroke-width="2" marker-end="url(#ap)"/>
<path d="M681,298.3 L689,305.5" stroke="#9494cc" stroke-width="2" marker-end="url(#ap)"/>
<path d="M644.6,319.4 V346" stroke="#9494cc" stroke-width="2.2" marker-end="url(#ap)"/>
<path d="M671.3,319.4 V330.4 H683" fill="none" stroke="#9494cc" stroke-width="2.2" marker-end="url(#ap)"/>
<path d="M690.7,318.7 V326" stroke="#9494cc" stroke-width="2.2"/>
<path d="M690.7,338 V346" stroke="#9494cc" stroke-width="2.2" marker-end="url(#ap)"/>
<path d="M712.7,319.4 V323.8 H724" fill="none" stroke="#9494cc" stroke-width="2.2" marker-end="url(#ap)"/>
<path d="M729.4,353.5 V348" stroke="#9494cc" stroke-width="2.2"/>
<path d="M729.4,337.2 V298.3 H747.6 V368" fill="none" stroke="#9494cc" stroke-width="2.2" marker-end="url(#ap)"/>
<path d="M747.6,298.3 H759" stroke="#9494cc" stroke-width="2.4" marker-end="url(#ap)"/>
<path d="M615.2,298.3 V353.5" stroke="#a4a4b0" stroke-width="1.6"/>
<path d="M628,279.7 V375" stroke="#4cc0d8" stroke-width="1.3" stroke-dasharray="6.5,6"/>
<path d="M660.8,279.7 V375" stroke="#4cc0d8" stroke-width="1.3" stroke-dasharray="6.5,6"/>
<path d="M703,279.7 V375" stroke="#4cc0d8" stroke-width="1.3" stroke-dasharray="6.5,6"/>
<path d="M743,279.7 V375" stroke="#4cc0d8" stroke-width="1.3" stroke-dasharray="6.5,6"/>
<rect x="637.5" y="307.1" width="14.200000000000045" height="12.299999999999955" rx="2" fill="#f6b200"/>
<text x="644.6" y="316.3" font-size="8" fill="#222" text-anchor="middle" >σ</text>
<rect x="664.2" y="307.1" width="14.299999999999955" height="12.299999999999955" rx="2" fill="#f6b200"/>
<text x="671.35" y="316.3" font-size="8" fill="#222" text-anchor="middle" >σ</text>
<rect x="705.8" y="307.8" width="13.800000000000068" height="11.599999999999966" rx="2" fill="#f6b200"/>
<text x="712.7" y="316.3" font-size="8" fill="#222" text-anchor="middle" >σ</text>
<rect x="681.8" y="308.2" width="18.6" height="10.5" fill="#f6b200"/>
<rect x="719.6" y="337.2" width="18.4" height="10.8" fill="#f6b200"/>
<text x="728.8" y="345.6" font-size="8.5" fill="#222" text-anchor="middle" >Tanh</text>
<circle cx="644.7" cy="353.4" r="5.8" fill="#7cc6da"/>
<text x="644.7" y="356.0" font-size="7.5" fill="#222" text-anchor="middle" >×</text>
<circle cx="690.7" cy="353.4" r="5.8" fill="#7cc6da"/>
<text x="690.7" y="356.0" font-size="7.5" fill="#222" text-anchor="middle" >+</text>
<circle cx="690.7" cy="332.2" r="5.8" fill="#7cc6da"/>
<text x="690.7" y="334.8" font-size="7.5" fill="#222" text-anchor="middle" >×</text>
<circle cx="731.2" cy="323.8" r="5.8" fill="#7cc6da"/>
<text x="731.2" y="326.40000000000003" font-size="7.5" fill="#222" text-anchor="middle" >×</text>
<circle cx="564.3" cy="273.6" r="6.6" fill="#ecbcbc" stroke="#e0a8a8" stroke-width="0.6"/>
<text x="563.8" y="275.6" font-size="7.5" fill="#222" text-anchor="middle">x<tspan font-size="4.7" dy="1.9">t-1</tspan></text>
<circle cx="633.5" cy="273.3" r="7" fill="#ecbcbc" stroke="#e0a8a8" stroke-width="0.6"/>
<text x="633.0" y="275.3" font-size="7.5" fill="#222" text-anchor="middle">x<tspan font-size="4.7" dy="1.9">t</tspan></text>
<circle cx="772.9" cy="271.6" r="7" fill="#ecbcbc" stroke="#e0a8a8" stroke-width="0.6"/>
<text x="772.4" y="273.6" font-size="7.5" fill="#222" text-anchor="middle">x<tspan font-size="4.7" dy="1.9">t+1</tspan></text>
<circle cx="748.1" cy="378.8" r="7" fill="#6682a8"/>
<text x="748" y="381" font-size="7.5" fill="#1c2a40" text-anchor="middle">h<tspan font-size="4.7" dy="1.9">t</tspan></text>
<text x="617.5" y="294" font-size="7.5" fill="#222" text-anchor="middle">h<tspan font-size="4.7" dy="1.9">t-1</tspan></text>
<text x="617.5" y="349.5" font-size="7.5" fill="#222" text-anchor="middle">c<tspan font-size="4.7" dy="1.9">t-1</tspan></text>
<text x="758.5" y="293" font-size="7.5" fill="#222" text-anchor="middle">h<tspan font-size="4.7" dy="1.9">t</tspan></text>
<text x="758.5" y="349" font-size="7.5" fill="#222" text-anchor="middle">c<tspan font-size="4.7" dy="1.9">t</tspan></text>
<text x="641.5" y="331.5" font-size="7.5" fill="#222" text-anchor="middle">f<tspan font-size="4.7" dy="1.9">t</tspan></text>
<text x="668" y="329" font-size="7.5" fill="#222" text-anchor="middle">i<tspan font-size="4.7" dy="1.9">t</tspan></text>
<text x="695.5" y="326.5" font-size="7.5" fill="#222" text-anchor="middle">g<tspan font-size="4.7" dy="1.9">t</tspan></text>
<text x="715.5" y="330.5" font-size="7.5" fill="#222" text-anchor="middle">o<tspan font-size="4.7" dy="1.9">t</tspan></text>
<text x="643.7" y="366.3" font-size="8.5" fill="#2a2a2a" text-anchor="middle" textLength="21.4" lengthAdjust="spacingAndGlyphs" >Forget</text>
<text x="644.2" y="376" font-size="8.5" fill="#2a2a2a" text-anchor="middle" >gate</text>
<text x="683.2" y="366.3" font-size="8.5" fill="#2a2a2a" text-anchor="middle" textLength="16.7" lengthAdjust="spacingAndGlyphs" >Input</text>
<text x="683.2" y="376" font-size="8.5" fill="#2a2a2a" text-anchor="middle" >gate</text>
<text x="723.5" y="366.3" font-size="8.5" fill="#2a2a2a" text-anchor="middle" textLength="23.8" lengthAdjust="spacingAndGlyphs" >Output</text>
<text x="723.7" y="376" font-size="8.5" fill="#2a2a2a" text-anchor="middle" >gate</text>
</svg>
</body></html>
